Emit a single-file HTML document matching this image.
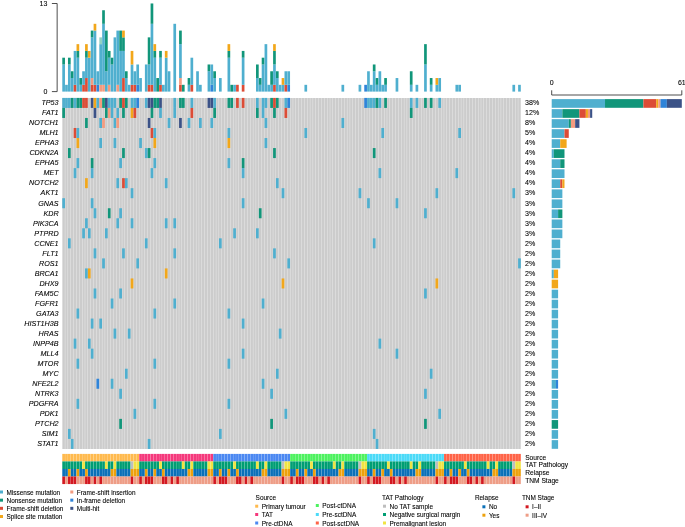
<!DOCTYPE html>
<html><head><meta charset="utf-8"><title>Oncoprint</title>
<style>
html,body{margin:0;padding:0;background:#fff;}
body{width:685px;height:527px;overflow:hidden;font-family:"Liberation Sans",sans-serif;}
svg{display:block;will-change:transform;}
text{stroke:#000;stroke-width:0.08px;}
</style></head><body>
<svg width="685" height="527" viewBox="0 0 685 527" font-family="Liberation Sans, sans-serif">
<rect width="685" height="527" fill="#fff"/>
<path d="M62.35 97.9h2.55v351.05h-2.55z M65.2 97.9h2.55v351.05h-2.55z M68.05 97.9h2.55v351.05h-2.55z M70.9 97.9h2.55v351.05h-2.55z M73.75 97.9h2.55v351.05h-2.55z M76.6 97.9h2.55v351.05h-2.55z M79.44 97.9h2.55v351.05h-2.55z M82.29 97.9h2.55v351.05h-2.55z M85.14 97.9h2.55v351.05h-2.55z M87.99 97.9h2.55v351.05h-2.55z M90.84 97.9h2.55v351.05h-2.55z M93.69 97.9h2.55v351.05h-2.55z M96.54 97.9h2.55v351.05h-2.55z M99.39 97.9h2.55v351.05h-2.55z M102.24 97.9h2.55v351.05h-2.55z M105.09 97.9h2.55v351.05h-2.55z M107.93 97.9h2.55v351.05h-2.55z M110.78 97.9h2.55v351.05h-2.55z M113.63 97.9h2.55v351.05h-2.55z M116.48 97.9h2.55v351.05h-2.55z M119.33 97.9h2.55v351.05h-2.55z M122.18 97.9h2.55v351.05h-2.55z M125.03 97.9h2.55v351.05h-2.55z M127.88 97.9h2.55v351.05h-2.55z M130.73 97.9h2.55v351.05h-2.55z M133.58 97.9h2.55v351.05h-2.55z M136.42 97.9h2.55v351.05h-2.55z M139.27 97.9h2.55v351.05h-2.55z M142.12 97.9h2.55v351.05h-2.55z M144.97 97.9h2.55v351.05h-2.55z M147.82 97.9h2.55v351.05h-2.55z M150.67 97.9h2.55v351.05h-2.55z M153.52 97.9h2.55v351.05h-2.55z M156.37 97.9h2.55v351.05h-2.55z M159.22 97.9h2.55v351.05h-2.55z M162.07 97.9h2.55v351.05h-2.55z M164.91 97.9h2.55v351.05h-2.55z M167.76 97.9h2.55v351.05h-2.55z M170.61 97.9h2.55v351.05h-2.55z M173.46 97.9h2.55v351.05h-2.55z M176.31 97.9h2.55v351.05h-2.55z M179.16 97.9h2.55v351.05h-2.55z M182.01 97.9h2.55v351.05h-2.55z M184.86 97.9h2.55v351.05h-2.55z M187.71 97.9h2.55v351.05h-2.55z M190.56 97.9h2.55v351.05h-2.55z M193.4 97.9h2.55v351.05h-2.55z M196.25 97.9h2.55v351.05h-2.55z M199.1 97.9h2.55v351.05h-2.55z M201.95 97.9h2.55v351.05h-2.55z M204.8 97.9h2.55v351.05h-2.55z M207.65 97.9h2.55v351.05h-2.55z M210.5 97.9h2.55v351.05h-2.55z M213.35 97.9h2.55v351.05h-2.55z M216.2 97.9h2.55v351.05h-2.55z M219.05 97.9h2.55v351.05h-2.55z M221.89 97.9h2.55v351.05h-2.55z M224.74 97.9h2.55v351.05h-2.55z M227.59 97.9h2.55v351.05h-2.55z M230.44 97.9h2.55v351.05h-2.55z M233.29 97.9h2.55v351.05h-2.55z M236.14 97.9h2.55v351.05h-2.55z M238.99 97.9h2.55v351.05h-2.55z M241.84 97.9h2.55v351.05h-2.55z M244.69 97.9h2.55v351.05h-2.55z M247.53 97.9h2.55v351.05h-2.55z M250.38 97.9h2.55v351.05h-2.55z M253.23 97.9h2.55v351.05h-2.55z M256.08 97.9h2.55v351.05h-2.55z M258.93 97.9h2.55v351.05h-2.55z M261.78 97.9h2.55v351.05h-2.55z M264.63 97.9h2.55v351.05h-2.55z M267.48 97.9h2.55v351.05h-2.55z M270.33 97.9h2.55v351.05h-2.55z M273.18 97.9h2.55v351.05h-2.55z M276.02 97.9h2.55v351.05h-2.55z M278.87 97.9h2.55v351.05h-2.55z M281.72 97.9h2.55v351.05h-2.55z M284.57 97.9h2.55v351.05h-2.55z M287.42 97.9h2.55v351.05h-2.55z M290.27 97.9h2.55v351.05h-2.55z M293.12 97.9h2.55v351.05h-2.55z M295.97 97.9h2.55v351.05h-2.55z M298.82 97.9h2.55v351.05h-2.55z M301.67 97.9h2.55v351.05h-2.55z M304.51 97.9h2.55v351.05h-2.55z M307.36 97.9h2.55v351.05h-2.55z M310.21 97.9h2.55v351.05h-2.55z M313.06 97.9h2.55v351.05h-2.55z M315.91 97.9h2.55v351.05h-2.55z M318.76 97.9h2.55v351.05h-2.55z M321.61 97.9h2.55v351.05h-2.55z M324.46 97.9h2.55v351.05h-2.55z M327.31 97.9h2.55v351.05h-2.55z M330.16 97.9h2.55v351.05h-2.55z M333 97.9h2.55v351.05h-2.55z M335.85 97.9h2.55v351.05h-2.55z M338.7 97.9h2.55v351.05h-2.55z M341.55 97.9h2.55v351.05h-2.55z M344.4 97.9h2.55v351.05h-2.55z M347.25 97.9h2.55v351.05h-2.55z M350.1 97.9h2.55v351.05h-2.55z M352.95 97.9h2.55v351.05h-2.55z M355.8 97.9h2.55v351.05h-2.55z M358.65 97.9h2.55v351.05h-2.55z M361.5 97.9h2.55v351.05h-2.55z M364.34 97.9h2.55v351.05h-2.55z M367.19 97.9h2.55v351.05h-2.55z M370.04 97.9h2.55v351.05h-2.55z M372.89 97.9h2.55v351.05h-2.55z M375.74 97.9h2.55v351.05h-2.55z M378.59 97.9h2.55v351.05h-2.55z M381.44 97.9h2.55v351.05h-2.55z M384.29 97.9h2.55v351.05h-2.55z M387.14 97.9h2.55v351.05h-2.55z M389.99 97.9h2.55v351.05h-2.55z M392.83 97.9h2.55v351.05h-2.55z M395.68 97.9h2.55v351.05h-2.55z M398.53 97.9h2.55v351.05h-2.55z M401.38 97.9h2.55v351.05h-2.55z M404.23 97.9h2.55v351.05h-2.55z M407.08 97.9h2.55v351.05h-2.55z M409.93 97.9h2.55v351.05h-2.55z M412.78 97.9h2.55v351.05h-2.55z M415.63 97.9h2.55v351.05h-2.55z M418.47 97.9h2.55v351.05h-2.55z M421.32 97.9h2.55v351.05h-2.55z M424.17 97.9h2.55v351.05h-2.55z M427.02 97.9h2.55v351.05h-2.55z M429.87 97.9h2.55v351.05h-2.55z M432.72 97.9h2.55v351.05h-2.55z M435.57 97.9h2.55v351.05h-2.55z M438.42 97.9h2.55v351.05h-2.55z M441.27 97.9h2.55v351.05h-2.55z M444.12 97.9h2.55v351.05h-2.55z M446.96 97.9h2.55v351.05h-2.55z M449.81 97.9h2.55v351.05h-2.55z M452.66 97.9h2.55v351.05h-2.55z M455.51 97.9h2.55v351.05h-2.55z M458.36 97.9h2.55v351.05h-2.55z M461.21 97.9h2.55v351.05h-2.55z M464.06 97.9h2.55v351.05h-2.55z M466.91 97.9h2.55v351.05h-2.55z M469.76 97.9h2.55v351.05h-2.55z M472.61 97.9h2.55v351.05h-2.55z M475.45 97.9h2.55v351.05h-2.55z M478.3 97.9h2.55v351.05h-2.55z M481.15 97.9h2.55v351.05h-2.55z M484 97.9h2.55v351.05h-2.55z M486.85 97.9h2.55v351.05h-2.55z M489.7 97.9h2.55v351.05h-2.55z M492.55 97.9h2.55v351.05h-2.55z M495.4 97.9h2.55v351.05h-2.55z M498.25 97.9h2.55v351.05h-2.55z M501.1 97.9h2.55v351.05h-2.55z M503.94 97.9h2.55v351.05h-2.55z M506.79 97.9h2.55v351.05h-2.55z M509.64 97.9h2.55v351.05h-2.55z M512.49 97.9h2.55v351.05h-2.55z M515.34 97.9h2.55v351.05h-2.55z M518.19 97.9h2.55v351.05h-2.55z" fill="#CCCCCC"/>
<rect x="62.27" y="97.9" width="2.71" height="10.03" fill="#4FAFCF"/>
<rect x="65.12" y="97.9" width="2.71" height="10.03" fill="#4FAFCF"/>
<rect x="67.97" y="97.9" width="2.71" height="10.03" fill="#4FAFCF"/>
<rect x="70.82" y="97.9" width="2.71" height="10.03" fill="#11967A"/>
<rect x="73.67" y="97.9" width="2.71" height="10.03" fill="#4FAFCF"/>
<rect x="76.52" y="97.9" width="2.71" height="10.03" fill="#11967A"/>
<rect x="79.36" y="97.9" width="2.71" height="10.03" fill="#11967A"/>
<rect x="82.21" y="97.9" width="2.71" height="10.03" fill="#DC4C36"/>
<rect x="85.06" y="97.9" width="2.71" height="10.03" fill="#DC4C36"/>
<rect x="90.76" y="97.9" width="2.71" height="10.03" fill="#3B5287"/>
<rect x="93.61" y="97.9" width="2.71" height="10.03" fill="#F2A71A"/>
<rect x="96.46" y="97.9" width="2.71" height="10.03" fill="#4FAFCF"/>
<rect x="99.31" y="97.9" width="2.71" height="10.03" fill="#F39B7F"/>
<rect x="102.16" y="97.9" width="2.71" height="10.03" fill="#11967A"/>
<rect x="105" y="97.9" width="2.71" height="10.03" fill="#3B5287"/>
<rect x="107.85" y="97.9" width="2.71" height="10.03" fill="#4FAFCF"/>
<rect x="110.7" y="97.9" width="2.71" height="10.03" fill="#4FAFCF"/>
<rect x="113.55" y="97.9" width="2.71" height="10.03" fill="#4FAFCF"/>
<rect x="119.25" y="97.9" width="2.71" height="10.03" fill="#11967A"/>
<rect x="122.1" y="97.9" width="2.71" height="10.03" fill="#DC4C36"/>
<rect x="124.95" y="97.9" width="2.71" height="10.03" fill="#11967A"/>
<rect x="130.65" y="97.9" width="2.71" height="10.03" fill="#4FAFCF"/>
<rect x="133.5" y="97.9" width="2.71" height="10.03" fill="#4FAFCF"/>
<rect x="136.34" y="97.9" width="2.71" height="10.03" fill="#2F84D9"/>
<rect x="144.89" y="97.9" width="2.71" height="10.03" fill="#4FAFCF"/>
<rect x="147.74" y="97.9" width="2.71" height="10.03" fill="#3B5287"/>
<rect x="150.59" y="97.9" width="2.71" height="10.03" fill="#3B5287"/>
<rect x="153.44" y="97.9" width="2.71" height="10.03" fill="#11967A"/>
<rect x="156.29" y="97.9" width="2.71" height="10.03" fill="#11967A"/>
<rect x="159.14" y="97.9" width="2.71" height="10.03" fill="#3B5287"/>
<rect x="173.38" y="97.9" width="2.71" height="10.03" fill="#4FAFCF"/>
<rect x="179.08" y="97.9" width="2.71" height="10.03" fill="#11967A"/>
<rect x="181.93" y="97.9" width="2.71" height="10.03" fill="#11967A"/>
<rect x="190.48" y="97.9" width="2.71" height="10.03" fill="#4FAFCF"/>
<rect x="207.57" y="97.9" width="2.71" height="10.03" fill="#3B5287"/>
<rect x="210.42" y="97.9" width="2.71" height="10.03" fill="#3B5287"/>
<rect x="213.27" y="97.9" width="2.71" height="10.03" fill="#4FAFCF"/>
<rect x="227.51" y="97.9" width="2.71" height="10.03" fill="#11967A"/>
<rect x="230.36" y="97.9" width="2.71" height="10.03" fill="#11967A"/>
<rect x="236.06" y="97.9" width="2.71" height="10.03" fill="#DC4C36"/>
<rect x="241.76" y="97.9" width="2.71" height="10.03" fill="#DC4C36"/>
<rect x="256" y="97.9" width="2.71" height="10.03" fill="#4FAFCF"/>
<rect x="261.7" y="97.9" width="2.71" height="10.03" fill="#4FAFCF"/>
<rect x="264.55" y="97.9" width="2.71" height="10.03" fill="#4FAFCF"/>
<rect x="270.25" y="97.9" width="2.71" height="10.03" fill="#11967A"/>
<rect x="273.1" y="97.9" width="2.71" height="10.03" fill="#DC4C36"/>
<rect x="275.94" y="97.9" width="2.71" height="10.03" fill="#11967A"/>
<rect x="284.49" y="97.9" width="2.71" height="10.03" fill="#4FAFCF"/>
<rect x="287.34" y="97.9" width="2.71" height="10.03" fill="#2F84D9"/>
<rect x="364.26" y="97.9" width="2.71" height="10.03" fill="#2F84D9"/>
<rect x="367.11" y="97.9" width="2.71" height="10.03" fill="#4FAFCF"/>
<rect x="369.96" y="97.9" width="2.71" height="10.03" fill="#4FAFCF"/>
<rect x="372.81" y="97.9" width="2.71" height="10.03" fill="#4FAFCF"/>
<rect x="375.66" y="97.9" width="2.71" height="10.03" fill="#11967A"/>
<rect x="378.51" y="97.9" width="2.71" height="10.03" fill="#4FAFCF"/>
<rect x="384.21" y="97.9" width="2.71" height="10.03" fill="#11967A"/>
<rect x="409.85" y="97.9" width="2.71" height="10.03" fill="#4FAFCF"/>
<rect x="415.55" y="97.9" width="2.71" height="10.03" fill="#4FAFCF"/>
<rect x="424.09" y="97.9" width="2.71" height="10.03" fill="#11967A"/>
<rect x="429.79" y="97.9" width="2.71" height="10.03" fill="#11967A"/>
<rect x="438.34" y="97.9" width="2.71" height="10.03" fill="#4FAFCF"/>
<rect x="62.27" y="107.93" width="2.71" height="10.03" fill="#11967A"/>
<rect x="93.61" y="107.93" width="2.71" height="10.03" fill="#3B5287"/>
<rect x="105" y="107.93" width="2.71" height="10.03" fill="#11967A"/>
<rect x="107.85" y="107.93" width="2.71" height="10.03" fill="#F39B7F"/>
<rect x="110.7" y="107.93" width="2.71" height="10.03" fill="#4FAFCF"/>
<rect x="116.4" y="107.93" width="2.71" height="10.03" fill="#4FAFCF"/>
<rect x="122.1" y="107.93" width="2.71" height="10.03" fill="#11967A"/>
<rect x="130.65" y="107.93" width="2.71" height="10.03" fill="#F2A71A"/>
<rect x="133.5" y="107.93" width="2.71" height="10.03" fill="#DC4C36"/>
<rect x="150.59" y="107.93" width="2.71" height="10.03" fill="#11967A"/>
<rect x="159.14" y="107.93" width="2.71" height="10.03" fill="#4FAFCF"/>
<rect x="173.38" y="107.93" width="2.71" height="10.03" fill="#4FAFCF"/>
<rect x="190.48" y="107.93" width="2.71" height="10.03" fill="#DC4C36"/>
<rect x="213.27" y="107.93" width="2.71" height="10.03" fill="#11967A"/>
<rect x="256" y="107.93" width="2.71" height="10.03" fill="#11967A"/>
<rect x="261.7" y="107.93" width="2.71" height="10.03" fill="#4FAFCF"/>
<rect x="273.1" y="107.93" width="2.71" height="10.03" fill="#11967A"/>
<rect x="284.49" y="107.93" width="2.71" height="10.03" fill="#DC4C36"/>
<rect x="409.85" y="107.93" width="2.71" height="10.03" fill="#11967A"/>
<rect x="85.06" y="117.96" width="2.71" height="10.03" fill="#11967A"/>
<rect x="99.31" y="117.96" width="2.71" height="10.03" fill="#4FAFCF"/>
<rect x="102.16" y="117.96" width="2.71" height="10.03" fill="#F39B7F"/>
<rect x="113.55" y="117.96" width="2.71" height="10.03" fill="#4FAFCF"/>
<rect x="116.4" y="117.96" width="2.71" height="10.03" fill="#F39B7F"/>
<rect x="147.74" y="117.96" width="2.71" height="10.03" fill="#3B5287"/>
<rect x="167.68" y="117.96" width="2.71" height="10.03" fill="#4FAFCF"/>
<rect x="179.08" y="117.96" width="2.71" height="10.03" fill="#3B5287"/>
<rect x="187.63" y="117.96" width="2.71" height="10.03" fill="#4FAFCF"/>
<rect x="199.02" y="117.96" width="2.71" height="10.03" fill="#4FAFCF"/>
<rect x="210.42" y="117.96" width="2.71" height="10.03" fill="#4FAFCF"/>
<rect x="264.55" y="117.96" width="2.71" height="10.03" fill="#4FAFCF"/>
<rect x="341.47" y="117.96" width="2.71" height="10.03" fill="#4FAFCF"/>
<rect x="73.67" y="127.99" width="2.71" height="10.03" fill="#DC4C36"/>
<rect x="76.52" y="127.99" width="2.71" height="10.03" fill="#4FAFCF"/>
<rect x="150.59" y="127.99" width="2.71" height="10.03" fill="#DC4C36"/>
<rect x="153.44" y="127.99" width="2.71" height="10.03" fill="#4FAFCF"/>
<rect x="227.51" y="127.99" width="2.71" height="10.03" fill="#4FAFCF"/>
<rect x="304.44" y="127.99" width="2.71" height="10.03" fill="#4FAFCF"/>
<rect x="381.36" y="127.99" width="2.71" height="10.03" fill="#4FAFCF"/>
<rect x="458.28" y="127.99" width="2.71" height="10.03" fill="#4FAFCF"/>
<rect x="76.52" y="138.02" width="2.71" height="10.03" fill="#F2A71A"/>
<rect x="99.31" y="138.02" width="2.71" height="10.03" fill="#4FAFCF"/>
<rect x="113.55" y="138.02" width="2.71" height="10.03" fill="#4FAFCF"/>
<rect x="139.19" y="138.02" width="2.71" height="10.03" fill="#4FAFCF"/>
<rect x="153.44" y="138.02" width="2.71" height="10.03" fill="#F2A71A"/>
<rect x="227.51" y="138.02" width="2.71" height="10.03" fill="#F2A71A"/>
<rect x="264.55" y="138.02" width="2.71" height="10.03" fill="#4FAFCF"/>
<rect x="67.97" y="148.05" width="2.71" height="10.03" fill="#11967A"/>
<rect x="122.1" y="148.05" width="2.71" height="10.03" fill="#11967A"/>
<rect x="144.89" y="148.05" width="2.71" height="10.03" fill="#4FAFCF"/>
<rect x="147.74" y="148.05" width="2.71" height="10.03" fill="#11967A"/>
<rect x="273.1" y="148.05" width="2.71" height="10.03" fill="#11967A"/>
<rect x="372.81" y="148.05" width="2.71" height="10.03" fill="#11967A"/>
<rect x="76.52" y="158.08" width="2.71" height="10.03" fill="#4FAFCF"/>
<rect x="90.76" y="158.08" width="2.71" height="10.03" fill="#11967A"/>
<rect x="119.25" y="158.08" width="2.71" height="10.03" fill="#4FAFCF"/>
<rect x="153.44" y="158.08" width="2.71" height="10.03" fill="#4FAFCF"/>
<rect x="227.51" y="158.08" width="2.71" height="10.03" fill="#4FAFCF"/>
<rect x="241.76" y="158.08" width="2.71" height="10.03" fill="#11967A"/>
<rect x="73.67" y="168.11" width="2.71" height="10.03" fill="#4FAFCF"/>
<rect x="90.76" y="168.11" width="2.71" height="10.03" fill="#4FAFCF"/>
<rect x="150.59" y="168.11" width="2.71" height="10.03" fill="#4FAFCF"/>
<rect x="241.76" y="168.11" width="2.71" height="10.03" fill="#4FAFCF"/>
<rect x="378.51" y="168.11" width="2.71" height="10.03" fill="#4FAFCF"/>
<rect x="455.43" y="168.11" width="2.71" height="10.03" fill="#4FAFCF"/>
<rect x="85.06" y="178.14" width="2.71" height="10.03" fill="#F2A71A"/>
<rect x="116.4" y="178.14" width="2.71" height="10.03" fill="#4FAFCF"/>
<rect x="122.1" y="178.14" width="2.71" height="10.03" fill="#DC4C36"/>
<rect x="124.95" y="178.14" width="2.71" height="10.03" fill="#4FAFCF"/>
<rect x="164.83" y="178.14" width="2.71" height="10.03" fill="#4FAFCF"/>
<rect x="275.94" y="178.14" width="2.71" height="10.03" fill="#4FAFCF"/>
<rect x="130.65" y="188.17" width="2.71" height="10.03" fill="#4FAFCF"/>
<rect x="281.64" y="188.17" width="2.71" height="10.03" fill="#4FAFCF"/>
<rect x="358.57" y="188.17" width="2.71" height="10.03" fill="#4FAFCF"/>
<rect x="435.49" y="188.17" width="2.71" height="10.03" fill="#4FAFCF"/>
<rect x="512.41" y="188.17" width="2.71" height="10.03" fill="#4FAFCF"/>
<rect x="62.27" y="198.2" width="2.71" height="10.03" fill="#4FAFCF"/>
<rect x="90.76" y="198.2" width="2.71" height="10.03" fill="#4FAFCF"/>
<rect x="241.76" y="198.2" width="2.71" height="10.03" fill="#4FAFCF"/>
<rect x="367.11" y="198.2" width="2.71" height="10.03" fill="#4FAFCF"/>
<rect x="395.6" y="198.2" width="2.71" height="10.03" fill="#4FAFCF"/>
<rect x="93.61" y="208.23" width="2.71" height="10.03" fill="#4FAFCF"/>
<rect x="107.85" y="208.23" width="2.71" height="10.03" fill="#11967A"/>
<rect x="119.25" y="208.23" width="2.71" height="10.03" fill="#4FAFCF"/>
<rect x="258.85" y="208.23" width="2.71" height="10.03" fill="#11967A"/>
<rect x="424.09" y="208.23" width="2.71" height="10.03" fill="#4FAFCF"/>
<rect x="85.06" y="218.26" width="2.71" height="10.03" fill="#4FAFCF"/>
<rect x="116.4" y="218.26" width="2.71" height="10.03" fill="#4FAFCF"/>
<rect x="130.65" y="218.26" width="2.71" height="10.03" fill="#4FAFCF"/>
<rect x="164.83" y="218.26" width="2.71" height="10.03" fill="#4FAFCF"/>
<rect x="173.38" y="218.26" width="2.71" height="10.03" fill="#4FAFCF"/>
<rect x="82.21" y="228.29" width="2.71" height="10.03" fill="#4FAFCF"/>
<rect x="87.91" y="228.29" width="2.71" height="10.03" fill="#4FAFCF"/>
<rect x="105" y="228.29" width="2.71" height="10.03" fill="#4FAFCF"/>
<rect x="233.21" y="228.29" width="2.71" height="10.03" fill="#4FAFCF"/>
<rect x="256" y="228.29" width="2.71" height="10.03" fill="#4FAFCF"/>
<rect x="67.97" y="238.32" width="2.71" height="10.03" fill="#4FAFCF"/>
<rect x="144.89" y="238.32" width="2.71" height="10.03" fill="#4FAFCF"/>
<rect x="218.97" y="238.32" width="2.71" height="10.03" fill="#4FAFCF"/>
<rect x="372.81" y="238.32" width="2.71" height="10.03" fill="#4FAFCF"/>
<rect x="93.61" y="248.35" width="2.71" height="10.03" fill="#4FAFCF"/>
<rect x="122.1" y="248.35" width="2.71" height="10.03" fill="#4FAFCF"/>
<rect x="173.38" y="248.35" width="2.71" height="10.03" fill="#4FAFCF"/>
<rect x="273.1" y="248.35" width="2.71" height="10.03" fill="#4FAFCF"/>
<rect x="102.16" y="258.38" width="2.71" height="10.03" fill="#4FAFCF"/>
<rect x="136.34" y="258.38" width="2.71" height="10.03" fill="#4FAFCF"/>
<rect x="287.34" y="258.38" width="2.71" height="10.03" fill="#4FAFCF"/>
<rect x="518.11" y="258.38" width="2.71" height="10.03" fill="#4FAFCF"/>
<rect x="85.06" y="268.41" width="2.71" height="10.03" fill="#4FAFCF"/>
<rect x="87.91" y="268.41" width="2.71" height="10.03" fill="#F2A71A"/>
<rect x="164.83" y="268.41" width="2.71" height="10.03" fill="#F2A71A"/>
<rect x="130.65" y="278.44" width="2.71" height="10.03" fill="#F2A71A"/>
<rect x="281.64" y="278.44" width="2.71" height="10.03" fill="#F2A71A"/>
<rect x="435.49" y="278.44" width="2.71" height="10.03" fill="#F2A71A"/>
<rect x="93.61" y="288.47" width="2.71" height="10.03" fill="#4FAFCF"/>
<rect x="119.25" y="288.47" width="2.71" height="10.03" fill="#4FAFCF"/>
<rect x="424.09" y="288.47" width="2.71" height="10.03" fill="#4FAFCF"/>
<rect x="110.7" y="298.5" width="2.71" height="10.03" fill="#4FAFCF"/>
<rect x="173.38" y="298.5" width="2.71" height="10.03" fill="#4FAFCF"/>
<rect x="261.7" y="298.5" width="2.71" height="10.03" fill="#4FAFCF"/>
<rect x="76.52" y="308.53" width="2.71" height="10.03" fill="#4FAFCF"/>
<rect x="153.44" y="308.53" width="2.71" height="10.03" fill="#4FAFCF"/>
<rect x="227.51" y="308.53" width="2.71" height="10.03" fill="#4FAFCF"/>
<rect x="90.76" y="318.56" width="2.71" height="10.03" fill="#4FAFCF"/>
<rect x="99.31" y="318.56" width="2.71" height="10.03" fill="#4FAFCF"/>
<rect x="241.76" y="318.56" width="2.71" height="10.03" fill="#4FAFCF"/>
<rect x="113.55" y="328.59" width="2.71" height="10.03" fill="#4FAFCF"/>
<rect x="127.8" y="328.59" width="2.71" height="10.03" fill="#4FAFCF"/>
<rect x="278.79" y="328.59" width="2.71" height="10.03" fill="#4FAFCF"/>
<rect x="73.67" y="338.62" width="2.71" height="10.03" fill="#4FAFCF"/>
<rect x="87.91" y="338.62" width="2.71" height="10.03" fill="#4FAFCF"/>
<rect x="378.51" y="338.62" width="2.71" height="10.03" fill="#4FAFCF"/>
<rect x="90.76" y="348.65" width="2.71" height="10.03" fill="#4FAFCF"/>
<rect x="241.76" y="348.65" width="2.71" height="10.03" fill="#4FAFCF"/>
<rect x="395.6" y="348.65" width="2.71" height="10.03" fill="#4FAFCF"/>
<rect x="76.52" y="358.68" width="2.71" height="10.03" fill="#4FAFCF"/>
<rect x="153.44" y="358.68" width="2.71" height="10.03" fill="#4FAFCF"/>
<rect x="227.51" y="358.68" width="2.71" height="10.03" fill="#4FAFCF"/>
<rect x="124.95" y="368.71" width="2.71" height="10.03" fill="#4FAFCF"/>
<rect x="275.94" y="368.71" width="2.71" height="10.03" fill="#4FAFCF"/>
<rect x="429.79" y="368.71" width="2.71" height="10.03" fill="#4FAFCF"/>
<rect x="96.46" y="378.74" width="2.71" height="10.03" fill="#2F84D9"/>
<rect x="110.7" y="378.74" width="2.71" height="10.03" fill="#4FAFCF"/>
<rect x="261.7" y="378.74" width="2.71" height="10.03" fill="#4FAFCF"/>
<rect x="119.25" y="388.77" width="2.71" height="10.03" fill="#4FAFCF"/>
<rect x="270.25" y="388.77" width="2.71" height="10.03" fill="#4FAFCF"/>
<rect x="424.09" y="388.77" width="2.71" height="10.03" fill="#4FAFCF"/>
<rect x="76.52" y="398.8" width="2.71" height="10.03" fill="#4FAFCF"/>
<rect x="153.44" y="398.8" width="2.71" height="10.03" fill="#4FAFCF"/>
<rect x="227.51" y="398.8" width="2.71" height="10.03" fill="#4FAFCF"/>
<rect x="133.5" y="408.83" width="2.71" height="10.03" fill="#4FAFCF"/>
<rect x="284.49" y="408.83" width="2.71" height="10.03" fill="#4FAFCF"/>
<rect x="438.34" y="408.83" width="2.71" height="10.03" fill="#4FAFCF"/>
<rect x="119.25" y="418.86" width="2.71" height="10.03" fill="#11967A"/>
<rect x="270.25" y="418.86" width="2.71" height="10.03" fill="#11967A"/>
<rect x="424.09" y="418.86" width="2.71" height="10.03" fill="#11967A"/>
<rect x="67.97" y="428.89" width="2.71" height="10.03" fill="#4FAFCF"/>
<rect x="218.97" y="428.89" width="2.71" height="10.03" fill="#4FAFCF"/>
<rect x="372.81" y="428.89" width="2.71" height="10.03" fill="#4FAFCF"/>
<rect x="70.82" y="438.92" width="2.71" height="10.03" fill="#4FAFCF"/>
<rect x="147.74" y="438.92" width="2.71" height="10.03" fill="#4FAFCF"/>
<rect x="375.66" y="438.92" width="2.71" height="10.03" fill="#4FAFCF"/>
<rect x="62.28" y="64.48" width="2.69" height="27.12" fill="#4FAFCF"/>
<rect x="62.28" y="57.7" width="2.69" height="6.78" fill="#11967A"/>
<rect x="65.13" y="84.82" width="2.69" height="6.78" fill="#4FAFCF"/>
<rect x="67.98" y="64.48" width="2.69" height="27.12" fill="#4FAFCF"/>
<rect x="67.98" y="57.7" width="2.69" height="6.78" fill="#11967A"/>
<rect x="70.83" y="78.04" width="2.69" height="13.56" fill="#4FAFCF"/>
<rect x="70.83" y="71.26" width="2.69" height="6.78" fill="#11967A"/>
<rect x="73.68" y="84.82" width="2.69" height="6.78" fill="#DC4C36"/>
<rect x="73.68" y="50.92" width="2.69" height="33.9" fill="#4FAFCF"/>
<rect x="76.53" y="57.7" width="2.69" height="33.9" fill="#4FAFCF"/>
<rect x="76.53" y="50.92" width="2.69" height="6.78" fill="#11967A"/>
<rect x="76.53" y="44.14" width="2.69" height="6.78" fill="#F2A71A"/>
<rect x="79.37" y="84.82" width="2.69" height="6.78" fill="#4FAFCF"/>
<rect x="79.37" y="78.04" width="2.69" height="6.78" fill="#11967A"/>
<rect x="82.22" y="84.82" width="2.69" height="6.78" fill="#DC4C36"/>
<rect x="82.22" y="71.26" width="2.69" height="13.56" fill="#4FAFCF"/>
<rect x="85.07" y="78.04" width="2.69" height="13.56" fill="#DC4C36"/>
<rect x="85.07" y="57.7" width="2.69" height="20.34" fill="#4FAFCF"/>
<rect x="85.07" y="50.92" width="2.69" height="6.78" fill="#11967A"/>
<rect x="85.07" y="44.14" width="2.69" height="6.78" fill="#F2A71A"/>
<rect x="87.92" y="57.7" width="2.69" height="33.9" fill="#4FAFCF"/>
<rect x="87.92" y="50.92" width="2.69" height="6.78" fill="#F2A71A"/>
<rect x="90.77" y="84.82" width="2.69" height="6.78" fill="#DC4C36"/>
<rect x="90.77" y="78.04" width="2.69" height="6.78" fill="#F39B7F"/>
<rect x="90.77" y="37.36" width="2.69" height="40.68" fill="#4FAFCF"/>
<rect x="90.77" y="30.58" width="2.69" height="6.78" fill="#11967A"/>
<rect x="93.62" y="84.82" width="2.69" height="6.78" fill="#DC4C36"/>
<rect x="93.62" y="30.58" width="2.69" height="54.24" fill="#4FAFCF"/>
<rect x="93.62" y="23.8" width="2.69" height="6.78" fill="#F2A71A"/>
<rect x="96.47" y="84.82" width="2.69" height="6.78" fill="#2F84D9"/>
<rect x="96.47" y="71.26" width="2.69" height="13.56" fill="#4FAFCF"/>
<rect x="99.32" y="84.82" width="2.69" height="6.78" fill="#F39B7F"/>
<rect x="99.32" y="44.14" width="2.69" height="40.68" fill="#4FAFCF"/>
<rect x="99.32" y="37.36" width="2.69" height="6.78" fill="#91D1C2"/>
<rect x="102.17" y="84.82" width="2.69" height="6.78" fill="#F39B7F"/>
<rect x="102.17" y="23.8" width="2.69" height="61.02" fill="#4FAFCF"/>
<rect x="102.17" y="10.24" width="2.69" height="13.56" fill="#11967A"/>
<rect x="105.02" y="71.26" width="2.69" height="20.34" fill="#4FAFCF"/>
<rect x="105.02" y="30.58" width="2.69" height="40.68" fill="#11967A"/>
<rect x="107.86" y="84.82" width="2.69" height="6.78" fill="#F39B7F"/>
<rect x="107.86" y="57.7" width="2.69" height="27.12" fill="#4FAFCF"/>
<rect x="107.86" y="50.92" width="2.69" height="6.78" fill="#11967A"/>
<rect x="110.71" y="64.48" width="2.69" height="27.12" fill="#4FAFCF"/>
<rect x="110.71" y="57.7" width="2.69" height="6.78" fill="#11967A"/>
<rect x="113.56" y="37.36" width="2.69" height="54.24" fill="#4FAFCF"/>
<rect x="116.41" y="84.82" width="2.69" height="6.78" fill="#F39B7F"/>
<rect x="116.41" y="30.58" width="2.69" height="54.24" fill="#4FAFCF"/>
<rect x="119.26" y="50.92" width="2.69" height="40.68" fill="#4FAFCF"/>
<rect x="119.26" y="30.58" width="2.69" height="20.34" fill="#11967A"/>
<rect x="122.11" y="78.04" width="2.69" height="13.56" fill="#DC4C36"/>
<rect x="122.11" y="50.92" width="2.69" height="27.12" fill="#4FAFCF"/>
<rect x="122.11" y="37.36" width="2.69" height="13.56" fill="#11967A"/>
<rect x="122.11" y="30.58" width="2.69" height="6.78" fill="#F2A71A"/>
<rect x="124.96" y="78.04" width="2.69" height="13.56" fill="#4FAFCF"/>
<rect x="124.96" y="71.26" width="2.69" height="6.78" fill="#11967A"/>
<rect x="127.81" y="84.82" width="2.69" height="6.78" fill="#4FAFCF"/>
<rect x="130.66" y="84.82" width="2.69" height="6.78" fill="#DC4C36"/>
<rect x="130.66" y="64.48" width="2.69" height="20.34" fill="#4FAFCF"/>
<rect x="130.66" y="50.92" width="2.69" height="13.56" fill="#F2A71A"/>
<rect x="133.51" y="84.82" width="2.69" height="6.78" fill="#DC4C36"/>
<rect x="133.51" y="71.26" width="2.69" height="13.56" fill="#4FAFCF"/>
<rect x="136.35" y="84.82" width="2.69" height="6.78" fill="#2F84D9"/>
<rect x="136.35" y="64.48" width="2.69" height="20.34" fill="#4FAFCF"/>
<rect x="139.2" y="78.04" width="2.69" height="13.56" fill="#4FAFCF"/>
<rect x="144.9" y="64.48" width="2.69" height="27.12" fill="#4FAFCF"/>
<rect x="147.75" y="84.82" width="2.69" height="6.78" fill="#DC4C36"/>
<rect x="147.75" y="64.48" width="2.69" height="20.34" fill="#4FAFCF"/>
<rect x="147.75" y="37.36" width="2.69" height="27.12" fill="#11967A"/>
<rect x="150.6" y="84.82" width="2.69" height="6.78" fill="#DC4C36"/>
<rect x="150.6" y="23.8" width="2.69" height="61.02" fill="#4FAFCF"/>
<rect x="150.6" y="3.46" width="2.69" height="20.34" fill="#11967A"/>
<rect x="153.45" y="57.7" width="2.69" height="33.9" fill="#4FAFCF"/>
<rect x="153.45" y="50.92" width="2.69" height="6.78" fill="#11967A"/>
<rect x="153.45" y="44.14" width="2.69" height="6.78" fill="#F2A71A"/>
<rect x="156.3" y="78.04" width="2.69" height="13.56" fill="#11967A"/>
<rect x="159.15" y="84.82" width="2.69" height="6.78" fill="#DC4C36"/>
<rect x="159.15" y="57.7" width="2.69" height="27.12" fill="#4FAFCF"/>
<rect x="159.15" y="50.92" width="2.69" height="6.78" fill="#11967A"/>
<rect x="162" y="84.82" width="2.69" height="6.78" fill="#4FAFCF"/>
<rect x="164.84" y="57.7" width="2.69" height="33.9" fill="#4FAFCF"/>
<rect x="164.84" y="50.92" width="2.69" height="6.78" fill="#F2A71A"/>
<rect x="167.69" y="71.26" width="2.69" height="20.34" fill="#4FAFCF"/>
<rect x="173.39" y="23.8" width="2.69" height="67.8" fill="#4FAFCF"/>
<rect x="179.09" y="84.82" width="2.69" height="6.78" fill="#DC4C36"/>
<rect x="179.09" y="78.04" width="2.69" height="6.78" fill="#F39B7F"/>
<rect x="179.09" y="44.14" width="2.69" height="33.9" fill="#4FAFCF"/>
<rect x="179.09" y="30.58" width="2.69" height="13.56" fill="#11967A"/>
<rect x="181.94" y="84.82" width="2.69" height="6.78" fill="#11967A"/>
<rect x="187.64" y="84.82" width="2.69" height="6.78" fill="#4FAFCF"/>
<rect x="187.64" y="78.04" width="2.69" height="6.78" fill="#11967A"/>
<rect x="190.49" y="84.82" width="2.69" height="6.78" fill="#DC4C36"/>
<rect x="190.49" y="57.7" width="2.69" height="27.12" fill="#4FAFCF"/>
<rect x="196.18" y="71.26" width="2.69" height="20.34" fill="#4FAFCF"/>
<rect x="199.03" y="84.82" width="2.69" height="6.78" fill="#4FAFCF"/>
<rect x="207.58" y="71.26" width="2.69" height="20.34" fill="#4FAFCF"/>
<rect x="207.58" y="64.48" width="2.69" height="6.78" fill="#11967A"/>
<rect x="210.43" y="84.82" width="2.69" height="6.78" fill="#2F84D9"/>
<rect x="210.43" y="64.48" width="2.69" height="20.34" fill="#4FAFCF"/>
<rect x="213.28" y="78.04" width="2.69" height="13.56" fill="#4FAFCF"/>
<rect x="213.28" y="71.26" width="2.69" height="6.78" fill="#11967A"/>
<rect x="218.98" y="78.04" width="2.69" height="13.56" fill="#4FAFCF"/>
<rect x="227.52" y="57.7" width="2.69" height="33.9" fill="#4FAFCF"/>
<rect x="227.52" y="50.92" width="2.69" height="6.78" fill="#11967A"/>
<rect x="227.52" y="44.14" width="2.69" height="6.78" fill="#F2A71A"/>
<rect x="230.37" y="84.82" width="2.69" height="6.78" fill="#11967A"/>
<rect x="233.22" y="84.82" width="2.69" height="6.78" fill="#4FAFCF"/>
<rect x="236.07" y="84.82" width="2.69" height="6.78" fill="#DC4C36"/>
<rect x="241.77" y="84.82" width="2.69" height="6.78" fill="#DC4C36"/>
<rect x="241.77" y="57.7" width="2.69" height="27.12" fill="#4FAFCF"/>
<rect x="241.77" y="50.92" width="2.69" height="6.78" fill="#11967A"/>
<rect x="256.01" y="78.04" width="2.69" height="13.56" fill="#4FAFCF"/>
<rect x="256.01" y="64.48" width="2.69" height="13.56" fill="#11967A"/>
<rect x="258.86" y="84.82" width="2.69" height="6.78" fill="#4FAFCF"/>
<rect x="258.86" y="78.04" width="2.69" height="6.78" fill="#11967A"/>
<rect x="261.71" y="64.48" width="2.69" height="27.12" fill="#4FAFCF"/>
<rect x="261.71" y="57.7" width="2.69" height="6.78" fill="#11967A"/>
<rect x="264.56" y="44.14" width="2.69" height="47.46" fill="#4FAFCF"/>
<rect x="267.41" y="84.82" width="2.69" height="6.78" fill="#4FAFCF"/>
<rect x="270.26" y="84.82" width="2.69" height="6.78" fill="#4FAFCF"/>
<rect x="270.26" y="71.26" width="2.69" height="13.56" fill="#11967A"/>
<rect x="273.11" y="84.82" width="2.69" height="6.78" fill="#DC4C36"/>
<rect x="273.11" y="64.48" width="2.69" height="20.34" fill="#4FAFCF"/>
<rect x="273.11" y="50.92" width="2.69" height="13.56" fill="#11967A"/>
<rect x="273.11" y="44.14" width="2.69" height="6.78" fill="#F2A71A"/>
<rect x="275.95" y="78.04" width="2.69" height="13.56" fill="#4FAFCF"/>
<rect x="275.95" y="71.26" width="2.69" height="6.78" fill="#11967A"/>
<rect x="278.8" y="84.82" width="2.69" height="6.78" fill="#4FAFCF"/>
<rect x="281.65" y="84.82" width="2.69" height="6.78" fill="#4FAFCF"/>
<rect x="281.65" y="78.04" width="2.69" height="6.78" fill="#F2A71A"/>
<rect x="284.5" y="84.82" width="2.69" height="6.78" fill="#DC4C36"/>
<rect x="284.5" y="71.26" width="2.69" height="13.56" fill="#4FAFCF"/>
<rect x="287.35" y="84.82" width="2.69" height="6.78" fill="#2F84D9"/>
<rect x="287.35" y="71.26" width="2.69" height="13.56" fill="#4FAFCF"/>
<rect x="304.44" y="84.82" width="2.69" height="6.78" fill="#4FAFCF"/>
<rect x="341.48" y="84.82" width="2.69" height="6.78" fill="#4FAFCF"/>
<rect x="358.58" y="84.82" width="2.69" height="6.78" fill="#4FAFCF"/>
<rect x="364.27" y="84.82" width="2.69" height="6.78" fill="#2F84D9"/>
<rect x="367.12" y="71.26" width="2.69" height="20.34" fill="#4FAFCF"/>
<rect x="369.97" y="84.82" width="2.69" height="6.78" fill="#4FAFCF"/>
<rect x="372.82" y="71.26" width="2.69" height="20.34" fill="#4FAFCF"/>
<rect x="372.82" y="64.48" width="2.69" height="6.78" fill="#11967A"/>
<rect x="375.67" y="84.82" width="2.69" height="6.78" fill="#4FAFCF"/>
<rect x="375.67" y="78.04" width="2.69" height="6.78" fill="#11967A"/>
<rect x="378.52" y="71.26" width="2.69" height="20.34" fill="#4FAFCF"/>
<rect x="381.37" y="84.82" width="2.69" height="6.78" fill="#4FAFCF"/>
<rect x="384.22" y="84.82" width="2.69" height="6.78" fill="#4FAFCF"/>
<rect x="384.22" y="78.04" width="2.69" height="6.78" fill="#11967A"/>
<rect x="395.61" y="78.04" width="2.69" height="13.56" fill="#4FAFCF"/>
<rect x="409.86" y="84.82" width="2.69" height="6.78" fill="#4FAFCF"/>
<rect x="409.86" y="71.26" width="2.69" height="13.56" fill="#11967A"/>
<rect x="415.56" y="84.82" width="2.69" height="6.78" fill="#4FAFCF"/>
<rect x="424.1" y="64.48" width="2.69" height="27.12" fill="#4FAFCF"/>
<rect x="424.1" y="44.14" width="2.69" height="20.34" fill="#11967A"/>
<rect x="429.8" y="84.82" width="2.69" height="6.78" fill="#4FAFCF"/>
<rect x="429.8" y="78.04" width="2.69" height="6.78" fill="#11967A"/>
<rect x="435.5" y="84.82" width="2.69" height="6.78" fill="#4FAFCF"/>
<rect x="435.5" y="78.04" width="2.69" height="6.78" fill="#F2A71A"/>
<rect x="438.35" y="78.04" width="2.69" height="13.56" fill="#4FAFCF"/>
<rect x="455.44" y="84.82" width="2.69" height="6.78" fill="#4FAFCF"/>
<rect x="458.29" y="84.82" width="2.69" height="6.78" fill="#4FAFCF"/>
<rect x="512.42" y="84.82" width="2.69" height="6.78" fill="#4FAFCF"/>
<rect x="518.12" y="84.82" width="2.69" height="6.78" fill="#4FAFCF"/>
<path d="M51.9 3.5H57.15V91.6H51.9" stroke="#3a3a3a" stroke-width="0.9" fill="none"/>
<text x="47.3" y="5.9" font-size="7" text-anchor="end" fill="#000">13</text>
<text x="47.3" y="94.1" font-size="7" text-anchor="end" fill="#000">0</text>
<text x="58.6" y="105.22" font-size="7.2" font-style="italic" text-anchor="end" fill="#000">TP53</text>
<text x="525.0" y="105.22" font-size="7.1" fill="#000">38%</text>
<text x="58.6" y="115.25" font-size="7.2" font-style="italic" text-anchor="end" fill="#000">FAT1</text>
<text x="525.0" y="115.25" font-size="7.1" fill="#000">12%</text>
<text x="58.6" y="125.28" font-size="7.2" font-style="italic" text-anchor="end" fill="#000">NOTCH1</text>
<text x="525.0" y="125.28" font-size="7.1" fill="#000">8%</text>
<text x="58.6" y="135.31" font-size="7.2" font-style="italic" text-anchor="end" fill="#000">MLH1</text>
<text x="525.0" y="135.31" font-size="7.1" fill="#000">5%</text>
<text x="58.6" y="145.34" font-size="7.2" font-style="italic" text-anchor="end" fill="#000">EPHA3</text>
<text x="525.0" y="145.34" font-size="7.1" fill="#000">4%</text>
<text x="58.6" y="155.37" font-size="7.2" font-style="italic" text-anchor="end" fill="#000">CDKN2A</text>
<text x="525.0" y="155.37" font-size="7.1" fill="#000">4%</text>
<text x="58.6" y="165.39" font-size="7.2" font-style="italic" text-anchor="end" fill="#000">EPHA5</text>
<text x="525.0" y="165.39" font-size="7.1" fill="#000">4%</text>
<text x="58.6" y="175.43" font-size="7.2" font-style="italic" text-anchor="end" fill="#000">MET</text>
<text x="525.0" y="175.43" font-size="7.1" fill="#000">4%</text>
<text x="58.6" y="185.45" font-size="7.2" font-style="italic" text-anchor="end" fill="#000">NOTCH2</text>
<text x="525.0" y="185.45" font-size="7.1" fill="#000">4%</text>
<text x="58.6" y="195.49" font-size="7.2" font-style="italic" text-anchor="end" fill="#000">AKT1</text>
<text x="525.0" y="195.49" font-size="7.1" fill="#000">3%</text>
<text x="58.6" y="205.51" font-size="7.2" font-style="italic" text-anchor="end" fill="#000">GNAS</text>
<text x="525.0" y="205.51" font-size="7.1" fill="#000">3%</text>
<text x="58.6" y="215.55" font-size="7.2" font-style="italic" text-anchor="end" fill="#000">KDR</text>
<text x="525.0" y="215.55" font-size="7.1" fill="#000">3%</text>
<text x="58.6" y="225.57" font-size="7.2" font-style="italic" text-anchor="end" fill="#000">PIK3CA</text>
<text x="525.0" y="225.57" font-size="7.1" fill="#000">3%</text>
<text x="58.6" y="235.6" font-size="7.2" font-style="italic" text-anchor="end" fill="#000">PTPRD</text>
<text x="525.0" y="235.6" font-size="7.1" fill="#000">3%</text>
<text x="58.6" y="245.63" font-size="7.2" font-style="italic" text-anchor="end" fill="#000">CCNE1</text>
<text x="525.0" y="245.63" font-size="7.1" fill="#000">2%</text>
<text x="58.6" y="255.66" font-size="7.2" font-style="italic" text-anchor="end" fill="#000">FLT1</text>
<text x="525.0" y="255.66" font-size="7.1" fill="#000">2%</text>
<text x="58.6" y="265.69" font-size="7.2" font-style="italic" text-anchor="end" fill="#000">ROS1</text>
<text x="525.0" y="265.69" font-size="7.1" fill="#000">2%</text>
<text x="58.6" y="275.72" font-size="7.2" font-style="italic" text-anchor="end" fill="#000">BRCA1</text>
<text x="525.0" y="275.72" font-size="7.1" fill="#000">2%</text>
<text x="58.6" y="285.75" font-size="7.2" font-style="italic" text-anchor="end" fill="#000">DHX9</text>
<text x="525.0" y="285.75" font-size="7.1" fill="#000">2%</text>
<text x="58.6" y="295.79" font-size="7.2" font-style="italic" text-anchor="end" fill="#000">FAM5C</text>
<text x="525.0" y="295.79" font-size="7.1" fill="#000">2%</text>
<text x="58.6" y="305.81" font-size="7.2" font-style="italic" text-anchor="end" fill="#000">FGFR1</text>
<text x="525.0" y="305.81" font-size="7.1" fill="#000">2%</text>
<text x="58.6" y="315.84" font-size="7.2" font-style="italic" text-anchor="end" fill="#000">GATA3</text>
<text x="525.0" y="315.84" font-size="7.1" fill="#000">2%</text>
<text x="58.6" y="325.88" font-size="7.2" font-style="italic" text-anchor="end" fill="#000">HIST1H3B</text>
<text x="525.0" y="325.88" font-size="7.1" fill="#000">2%</text>
<text x="58.6" y="335.91" font-size="7.2" font-style="italic" text-anchor="end" fill="#000">HRAS</text>
<text x="525.0" y="335.91" font-size="7.1" fill="#000">2%</text>
<text x="58.6" y="345.94" font-size="7.2" font-style="italic" text-anchor="end" fill="#000">INPP4B</text>
<text x="525.0" y="345.94" font-size="7.1" fill="#000">2%</text>
<text x="58.6" y="355.96" font-size="7.2" font-style="italic" text-anchor="end" fill="#000">MLL4</text>
<text x="525.0" y="355.96" font-size="7.1" fill="#000">2%</text>
<text x="58.6" y="365.99" font-size="7.2" font-style="italic" text-anchor="end" fill="#000">MTOR</text>
<text x="525.0" y="365.99" font-size="7.1" fill="#000">2%</text>
<text x="58.6" y="376.03" font-size="7.2" font-style="italic" text-anchor="end" fill="#000">MYC</text>
<text x="525.0" y="376.03" font-size="7.1" fill="#000">2%</text>
<text x="58.6" y="386.06" font-size="7.2" font-style="italic" text-anchor="end" fill="#000">NFE2L2</text>
<text x="525.0" y="386.06" font-size="7.1" fill="#000">2%</text>
<text x="58.6" y="396.08" font-size="7.2" font-style="italic" text-anchor="end" fill="#000">NTRK3</text>
<text x="525.0" y="396.08" font-size="7.1" fill="#000">2%</text>
<text x="58.6" y="406.11" font-size="7.2" font-style="italic" text-anchor="end" fill="#000">PDGFRA</text>
<text x="525.0" y="406.11" font-size="7.1" fill="#000">2%</text>
<text x="58.6" y="416.15" font-size="7.2" font-style="italic" text-anchor="end" fill="#000">PDK1</text>
<text x="525.0" y="416.15" font-size="7.1" fill="#000">2%</text>
<text x="58.6" y="426.18" font-size="7.2" font-style="italic" text-anchor="end" fill="#000">PTCH2</text>
<text x="525.0" y="426.18" font-size="7.1" fill="#000">2%</text>
<text x="58.6" y="436.2" font-size="7.2" font-style="italic" text-anchor="end" fill="#000">SIM1</text>
<text x="525.0" y="436.2" font-size="7.1" fill="#000">2%</text>
<text x="58.6" y="446.23" font-size="7.2" font-style="italic" text-anchor="end" fill="#000">STAT1</text>
<text x="525.0" y="446.23" font-size="7.1" fill="#000">2%</text>
<rect x="551.7" y="99.1" width="53.32" height="8.7" fill="#4FAFCF"/>
<rect x="605.02" y="99.1" width="38.39" height="8.7" fill="#11967A"/>
<rect x="643.41" y="99.1" width="12.8" height="8.7" fill="#DC4C36"/>
<rect x="656.21" y="99.1" width="2.13" height="8.7" fill="#F2A71A"/>
<rect x="658.34" y="99.1" width="2.13" height="8.7" fill="#F39B7F"/>
<rect x="660.47" y="99.1" width="6.4" height="8.7" fill="#2F84D9"/>
<rect x="666.87" y="99.1" width="14.93" height="8.7" fill="#3B5287"/>
<rect x="551.7" y="109.13" width="10.66" height="8.7" fill="#4FAFCF"/>
<rect x="562.36" y="109.13" width="17.06" height="8.7" fill="#11967A"/>
<rect x="579.43" y="109.13" width="6.4" height="8.7" fill="#DC4C36"/>
<rect x="585.82" y="109.13" width="2.13" height="8.7" fill="#F2A71A"/>
<rect x="587.96" y="109.13" width="2.13" height="8.7" fill="#F39B7F"/>
<rect x="590.09" y="109.13" width="2.13" height="8.7" fill="#3B5287"/>
<rect x="551.7" y="119.16" width="17.06" height="8.7" fill="#4FAFCF"/>
<rect x="568.76" y="119.16" width="2.13" height="8.7" fill="#11967A"/>
<rect x="570.9" y="119.16" width="4.27" height="8.7" fill="#F39B7F"/>
<rect x="575.16" y="119.16" width="4.27" height="8.7" fill="#3B5287"/>
<rect x="551.7" y="129.19" width="12.8" height="8.7" fill="#4FAFCF"/>
<rect x="564.5" y="129.19" width="4.27" height="8.7" fill="#DC4C36"/>
<rect x="551.7" y="139.22" width="8.53" height="8.7" fill="#4FAFCF"/>
<rect x="560.23" y="139.22" width="6.4" height="8.7" fill="#F2A71A"/>
<rect x="551.7" y="149.25" width="2.13" height="8.7" fill="#4FAFCF"/>
<rect x="553.83" y="149.25" width="10.66" height="8.7" fill="#11967A"/>
<rect x="551.7" y="159.28" width="8.53" height="8.7" fill="#4FAFCF"/>
<rect x="560.23" y="159.28" width="4.27" height="8.7" fill="#11967A"/>
<rect x="551.7" y="169.31" width="12.8" height="8.7" fill="#4FAFCF"/>
<rect x="551.7" y="179.34" width="8.53" height="8.7" fill="#4FAFCF"/>
<rect x="560.23" y="179.34" width="2.13" height="8.7" fill="#DC4C36"/>
<rect x="562.36" y="179.34" width="2.13" height="8.7" fill="#F2A71A"/>
<rect x="551.7" y="189.37" width="10.66" height="8.7" fill="#4FAFCF"/>
<rect x="551.7" y="199.4" width="10.66" height="8.7" fill="#4FAFCF"/>
<rect x="551.7" y="209.43" width="6.4" height="8.7" fill="#4FAFCF"/>
<rect x="558.1" y="209.43" width="4.27" height="8.7" fill="#11967A"/>
<rect x="551.7" y="219.46" width="10.66" height="8.7" fill="#4FAFCF"/>
<rect x="551.7" y="229.49" width="10.66" height="8.7" fill="#4FAFCF"/>
<rect x="551.7" y="239.52" width="8.53" height="8.7" fill="#4FAFCF"/>
<rect x="551.7" y="249.55" width="8.53" height="8.7" fill="#4FAFCF"/>
<rect x="551.7" y="259.58" width="8.53" height="8.7" fill="#4FAFCF"/>
<rect x="551.7" y="269.61" width="2.13" height="8.7" fill="#4FAFCF"/>
<rect x="553.83" y="269.61" width="4.27" height="8.7" fill="#F2A71A"/>
<rect x="551.7" y="279.64" width="6.4" height="8.7" fill="#F2A71A"/>
<rect x="551.7" y="289.67" width="6.4" height="8.7" fill="#4FAFCF"/>
<rect x="551.7" y="299.7" width="6.4" height="8.7" fill="#4FAFCF"/>
<rect x="551.7" y="309.73" width="6.4" height="8.7" fill="#4FAFCF"/>
<rect x="551.7" y="319.76" width="6.4" height="8.7" fill="#4FAFCF"/>
<rect x="551.7" y="329.79" width="6.4" height="8.7" fill="#4FAFCF"/>
<rect x="551.7" y="339.82" width="6.4" height="8.7" fill="#4FAFCF"/>
<rect x="551.7" y="349.85" width="6.4" height="8.7" fill="#4FAFCF"/>
<rect x="551.7" y="359.88" width="6.4" height="8.7" fill="#4FAFCF"/>
<rect x="551.7" y="369.91" width="6.4" height="8.7" fill="#4FAFCF"/>
<rect x="551.7" y="379.94" width="4.27" height="8.7" fill="#4FAFCF"/>
<rect x="555.97" y="379.94" width="2.13" height="8.7" fill="#2F84D9"/>
<rect x="551.7" y="389.97" width="6.4" height="8.7" fill="#4FAFCF"/>
<rect x="551.7" y="400" width="6.4" height="8.7" fill="#4FAFCF"/>
<rect x="551.7" y="410.03" width="6.4" height="8.7" fill="#4FAFCF"/>
<rect x="551.7" y="420.06" width="6.4" height="8.7" fill="#11967A"/>
<rect x="551.7" y="430.09" width="6.4" height="8.7" fill="#4FAFCF"/>
<rect x="551.7" y="440.12" width="6.4" height="8.7" fill="#4FAFCF"/>
<path d="M551.7 90.3V95H681.8V90.3" stroke="#3a3a3a" stroke-width="0.9" fill="none"/>
<text x="551.7" y="85.0" font-size="7" text-anchor="middle" fill="#000">0</text>
<text x="681.8" y="85.0" font-size="7" text-anchor="middle" fill="#000">61</text>
<rect x="62.28" y="453.9" width="2.69" height="7.58" fill="#FFBA4E"/>
<rect x="62.28" y="461.43" width="2.69" height="7.58" fill="#009E73"/>
<rect x="62.28" y="468.96" width="2.69" height="7.58" fill="#0A70B8"/>
<rect x="62.28" y="476.49" width="2.69" height="7.58" fill="#D31820"/>
<rect x="65.13" y="453.9" width="2.69" height="7.58" fill="#FFBA4E"/>
<rect x="65.13" y="461.43" width="2.69" height="7.58" fill="#009E73"/>
<rect x="65.13" y="468.96" width="2.69" height="7.58" fill="#0A70B8"/>
<rect x="65.13" y="476.49" width="2.69" height="7.58" fill="#EE9D86"/>
<rect x="67.98" y="453.9" width="2.69" height="7.58" fill="#FFBA4E"/>
<rect x="67.98" y="461.43" width="2.69" height="7.58" fill="#009E73"/>
<rect x="67.98" y="468.96" width="2.69" height="7.58" fill="#EDA10C"/>
<rect x="67.98" y="476.49" width="2.69" height="7.58" fill="#D31820"/>
<rect x="70.83" y="453.9" width="2.69" height="7.58" fill="#FFBA4E"/>
<rect x="70.83" y="461.43" width="2.69" height="7.58" fill="#009E73"/>
<rect x="70.83" y="468.96" width="2.69" height="7.58" fill="#0A70B8"/>
<rect x="70.83" y="476.49" width="2.69" height="7.58" fill="#D31820"/>
<rect x="73.68" y="453.9" width="2.69" height="7.58" fill="#FFBA4E"/>
<rect x="73.68" y="461.43" width="2.69" height="7.58" fill="#009E73"/>
<rect x="73.68" y="468.96" width="2.69" height="7.58" fill="#0A70B8"/>
<rect x="73.68" y="476.49" width="2.69" height="7.58" fill="#D31820"/>
<rect x="76.53" y="453.9" width="2.69" height="7.58" fill="#FFBA4E"/>
<rect x="76.53" y="461.43" width="2.69" height="7.58" fill="#009E73"/>
<rect x="76.53" y="468.96" width="2.69" height="7.58" fill="#EDA10C"/>
<rect x="76.53" y="476.49" width="2.69" height="7.58" fill="#EE9D86"/>
<rect x="79.37" y="453.9" width="2.69" height="7.58" fill="#FFBA4E"/>
<rect x="79.37" y="461.43" width="2.69" height="7.58" fill="#009E73"/>
<rect x="79.37" y="468.96" width="2.69" height="7.58" fill="#0A70B8"/>
<rect x="79.37" y="476.49" width="2.69" height="7.58" fill="#EE9D86"/>
<rect x="82.22" y="453.9" width="2.69" height="7.58" fill="#FFBA4E"/>
<rect x="82.22" y="461.43" width="2.69" height="7.58" fill="#F0E442"/>
<rect x="82.22" y="468.96" width="2.69" height="7.58" fill="#0A70B8"/>
<rect x="82.22" y="476.49" width="2.69" height="7.58" fill="#EE9D86"/>
<rect x="85.07" y="453.9" width="2.69" height="7.58" fill="#FFBA4E"/>
<rect x="85.07" y="461.43" width="2.69" height="7.58" fill="#009E73"/>
<rect x="85.07" y="468.96" width="2.69" height="7.58" fill="#EDA10C"/>
<rect x="85.07" y="476.49" width="2.69" height="7.58" fill="#D31820"/>
<rect x="87.92" y="453.9" width="2.69" height="7.58" fill="#FFBA4E"/>
<rect x="87.92" y="461.43" width="2.69" height="7.58" fill="#009E73"/>
<rect x="87.92" y="468.96" width="2.69" height="7.58" fill="#0A70B8"/>
<rect x="87.92" y="476.49" width="2.69" height="7.58" fill="#D31820"/>
<rect x="90.77" y="453.9" width="2.69" height="7.58" fill="#FFBA4E"/>
<rect x="90.77" y="461.43" width="2.69" height="7.58" fill="#009E73"/>
<rect x="90.77" y="468.96" width="2.69" height="7.58" fill="#0A70B8"/>
<rect x="90.77" y="476.49" width="2.69" height="7.58" fill="#EE9D86"/>
<rect x="93.62" y="453.9" width="2.69" height="7.58" fill="#FFBA4E"/>
<rect x="93.62" y="461.43" width="2.69" height="7.58" fill="#009E73"/>
<rect x="93.62" y="468.96" width="2.69" height="7.58" fill="#0A70B8"/>
<rect x="93.62" y="476.49" width="2.69" height="7.58" fill="#D31820"/>
<rect x="96.47" y="453.9" width="2.69" height="7.58" fill="#FFBA4E"/>
<rect x="96.47" y="461.43" width="2.69" height="7.58" fill="#009E73"/>
<rect x="96.47" y="468.96" width="2.69" height="7.58" fill="#0A70B8"/>
<rect x="96.47" y="476.49" width="2.69" height="7.58" fill="#EE9D86"/>
<rect x="99.32" y="453.9" width="2.69" height="7.58" fill="#FFBA4E"/>
<rect x="99.32" y="461.43" width="2.69" height="7.58" fill="#009E73"/>
<rect x="99.32" y="468.96" width="2.69" height="7.58" fill="#0A70B8"/>
<rect x="99.32" y="476.49" width="2.69" height="7.58" fill="#D31820"/>
<rect x="102.17" y="453.9" width="2.69" height="7.58" fill="#FFBA4E"/>
<rect x="102.17" y="461.43" width="2.69" height="7.58" fill="#009E73"/>
<rect x="102.17" y="468.96" width="2.69" height="7.58" fill="#0A70B8"/>
<rect x="102.17" y="476.49" width="2.69" height="7.58" fill="#EE9D86"/>
<rect x="105.02" y="453.9" width="2.69" height="7.58" fill="#FFBA4E"/>
<rect x="105.02" y="461.43" width="2.69" height="7.58" fill="#F0E442"/>
<rect x="105.02" y="468.96" width="2.69" height="7.58" fill="#0A70B8"/>
<rect x="105.02" y="476.49" width="2.69" height="7.58" fill="#EE9D86"/>
<rect x="107.86" y="453.9" width="2.69" height="7.58" fill="#FFBA4E"/>
<rect x="107.86" y="461.43" width="2.69" height="7.58" fill="#009E73"/>
<rect x="107.86" y="468.96" width="2.69" height="7.58" fill="#0A70B8"/>
<rect x="107.86" y="476.49" width="2.69" height="7.58" fill="#EE9D86"/>
<rect x="110.71" y="453.9" width="2.69" height="7.58" fill="#FFBA4E"/>
<rect x="110.71" y="461.43" width="2.69" height="7.58" fill="#009E73"/>
<rect x="110.71" y="468.96" width="2.69" height="7.58" fill="#EDA10C"/>
<rect x="110.71" y="476.49" width="2.69" height="7.58" fill="#EE9D86"/>
<rect x="113.56" y="453.9" width="2.69" height="7.58" fill="#FFBA4E"/>
<rect x="113.56" y="461.43" width="2.69" height="7.58" fill="#F0E442"/>
<rect x="113.56" y="468.96" width="2.69" height="7.58" fill="#EDA10C"/>
<rect x="113.56" y="476.49" width="2.69" height="7.58" fill="#EE9D86"/>
<rect x="116.41" y="453.9" width="2.69" height="7.58" fill="#FFBA4E"/>
<rect x="116.41" y="461.43" width="2.69" height="7.58" fill="#009E73"/>
<rect x="116.41" y="468.96" width="2.69" height="7.58" fill="#0A70B8"/>
<rect x="116.41" y="476.49" width="2.69" height="7.58" fill="#EE9D86"/>
<rect x="119.26" y="453.9" width="2.69" height="7.58" fill="#FFBA4E"/>
<rect x="119.26" y="461.43" width="2.69" height="7.58" fill="#009E73"/>
<rect x="119.26" y="468.96" width="2.69" height="7.58" fill="#0A70B8"/>
<rect x="119.26" y="476.49" width="2.69" height="7.58" fill="#EE9D86"/>
<rect x="122.11" y="453.9" width="2.69" height="7.58" fill="#FFBA4E"/>
<rect x="122.11" y="461.43" width="2.69" height="7.58" fill="#009E73"/>
<rect x="122.11" y="468.96" width="2.69" height="7.58" fill="#0A70B8"/>
<rect x="122.11" y="476.49" width="2.69" height="7.58" fill="#EE9D86"/>
<rect x="124.96" y="453.9" width="2.69" height="7.58" fill="#FFBA4E"/>
<rect x="124.96" y="461.43" width="2.69" height="7.58" fill="#009E73"/>
<rect x="124.96" y="468.96" width="2.69" height="7.58" fill="#0A70B8"/>
<rect x="124.96" y="476.49" width="2.69" height="7.58" fill="#EE9D86"/>
<rect x="127.81" y="453.9" width="2.69" height="7.58" fill="#FFBA4E"/>
<rect x="127.81" y="461.43" width="2.69" height="7.58" fill="#009E73"/>
<rect x="127.81" y="468.96" width="2.69" height="7.58" fill="#0A70B8"/>
<rect x="127.81" y="476.49" width="2.69" height="7.58" fill="#EE9D86"/>
<rect x="130.66" y="453.9" width="2.69" height="7.58" fill="#FFBA4E"/>
<rect x="130.66" y="461.43" width="2.69" height="7.58" fill="#BEBEBE"/>
<rect x="130.66" y="468.96" width="2.69" height="7.58" fill="#EDA10C"/>
<rect x="130.66" y="476.49" width="2.69" height="7.58" fill="#D31820"/>
<rect x="133.51" y="453.9" width="2.69" height="7.58" fill="#FFBA4E"/>
<rect x="133.51" y="461.43" width="2.69" height="7.58" fill="#F0E442"/>
<rect x="133.51" y="468.96" width="2.69" height="7.58" fill="#EDA10C"/>
<rect x="133.51" y="476.49" width="2.69" height="7.58" fill="#EE9D86"/>
<rect x="136.35" y="453.9" width="2.69" height="7.58" fill="#FFBA4E"/>
<rect x="136.35" y="461.43" width="2.69" height="7.58" fill="#F0E442"/>
<rect x="136.35" y="468.96" width="2.69" height="7.58" fill="#EDA10C"/>
<rect x="136.35" y="476.49" width="2.69" height="7.58" fill="#EE9D86"/>
<rect x="139.2" y="453.9" width="2.69" height="7.58" fill="#F5387C"/>
<rect x="139.2" y="461.43" width="2.69" height="7.58" fill="#009E73"/>
<rect x="139.2" y="468.96" width="2.69" height="7.58" fill="#0A70B8"/>
<rect x="139.2" y="476.49" width="2.69" height="7.58" fill="#D31820"/>
<rect x="142.05" y="453.9" width="2.69" height="7.58" fill="#F5387C"/>
<rect x="142.05" y="461.43" width="2.69" height="7.58" fill="#009E73"/>
<rect x="142.05" y="468.96" width="2.69" height="7.58" fill="#0A70B8"/>
<rect x="142.05" y="476.49" width="2.69" height="7.58" fill="#EE9D86"/>
<rect x="144.9" y="453.9" width="2.69" height="7.58" fill="#F5387C"/>
<rect x="144.9" y="461.43" width="2.69" height="7.58" fill="#009E73"/>
<rect x="144.9" y="468.96" width="2.69" height="7.58" fill="#EDA10C"/>
<rect x="144.9" y="476.49" width="2.69" height="7.58" fill="#D31820"/>
<rect x="147.75" y="453.9" width="2.69" height="7.58" fill="#F5387C"/>
<rect x="147.75" y="461.43" width="2.69" height="7.58" fill="#009E73"/>
<rect x="147.75" y="468.96" width="2.69" height="7.58" fill="#0A70B8"/>
<rect x="147.75" y="476.49" width="2.69" height="7.58" fill="#D31820"/>
<rect x="150.6" y="453.9" width="2.69" height="7.58" fill="#F5387C"/>
<rect x="150.6" y="461.43" width="2.69" height="7.58" fill="#009E73"/>
<rect x="150.6" y="468.96" width="2.69" height="7.58" fill="#0A70B8"/>
<rect x="150.6" y="476.49" width="2.69" height="7.58" fill="#D31820"/>
<rect x="153.45" y="453.9" width="2.69" height="7.58" fill="#F5387C"/>
<rect x="153.45" y="461.43" width="2.69" height="7.58" fill="#009E73"/>
<rect x="153.45" y="468.96" width="2.69" height="7.58" fill="#EDA10C"/>
<rect x="153.45" y="476.49" width="2.69" height="7.58" fill="#EE9D86"/>
<rect x="156.3" y="453.9" width="2.69" height="7.58" fill="#F5387C"/>
<rect x="156.3" y="461.43" width="2.69" height="7.58" fill="#009E73"/>
<rect x="156.3" y="468.96" width="2.69" height="7.58" fill="#0A70B8"/>
<rect x="156.3" y="476.49" width="2.69" height="7.58" fill="#EE9D86"/>
<rect x="159.15" y="453.9" width="2.69" height="7.58" fill="#F5387C"/>
<rect x="159.15" y="461.43" width="2.69" height="7.58" fill="#F0E442"/>
<rect x="159.15" y="468.96" width="2.69" height="7.58" fill="#0A70B8"/>
<rect x="159.15" y="476.49" width="2.69" height="7.58" fill="#EE9D86"/>
<rect x="162" y="453.9" width="2.69" height="7.58" fill="#F5387C"/>
<rect x="162" y="461.43" width="2.69" height="7.58" fill="#009E73"/>
<rect x="162" y="468.96" width="2.69" height="7.58" fill="#EDA10C"/>
<rect x="162" y="476.49" width="2.69" height="7.58" fill="#D31820"/>
<rect x="164.84" y="453.9" width="2.69" height="7.58" fill="#F5387C"/>
<rect x="164.84" y="461.43" width="2.69" height="7.58" fill="#009E73"/>
<rect x="164.84" y="468.96" width="2.69" height="7.58" fill="#0A70B8"/>
<rect x="164.84" y="476.49" width="2.69" height="7.58" fill="#D31820"/>
<rect x="167.69" y="453.9" width="2.69" height="7.58" fill="#F5387C"/>
<rect x="167.69" y="461.43" width="2.69" height="7.58" fill="#009E73"/>
<rect x="167.69" y="468.96" width="2.69" height="7.58" fill="#0A70B8"/>
<rect x="167.69" y="476.49" width="2.69" height="7.58" fill="#EE9D86"/>
<rect x="170.54" y="453.9" width="2.69" height="7.58" fill="#F5387C"/>
<rect x="170.54" y="461.43" width="2.69" height="7.58" fill="#009E73"/>
<rect x="170.54" y="468.96" width="2.69" height="7.58" fill="#0A70B8"/>
<rect x="170.54" y="476.49" width="2.69" height="7.58" fill="#D31820"/>
<rect x="173.39" y="453.9" width="2.69" height="7.58" fill="#F5387C"/>
<rect x="173.39" y="461.43" width="2.69" height="7.58" fill="#009E73"/>
<rect x="173.39" y="468.96" width="2.69" height="7.58" fill="#0A70B8"/>
<rect x="173.39" y="476.49" width="2.69" height="7.58" fill="#EE9D86"/>
<rect x="176.24" y="453.9" width="2.69" height="7.58" fill="#F5387C"/>
<rect x="176.24" y="461.43" width="2.69" height="7.58" fill="#009E73"/>
<rect x="176.24" y="468.96" width="2.69" height="7.58" fill="#0A70B8"/>
<rect x="176.24" y="476.49" width="2.69" height="7.58" fill="#D31820"/>
<rect x="179.09" y="453.9" width="2.69" height="7.58" fill="#F5387C"/>
<rect x="179.09" y="461.43" width="2.69" height="7.58" fill="#009E73"/>
<rect x="179.09" y="468.96" width="2.69" height="7.58" fill="#0A70B8"/>
<rect x="179.09" y="476.49" width="2.69" height="7.58" fill="#EE9D86"/>
<rect x="181.94" y="453.9" width="2.69" height="7.58" fill="#F5387C"/>
<rect x="181.94" y="461.43" width="2.69" height="7.58" fill="#F0E442"/>
<rect x="181.94" y="468.96" width="2.69" height="7.58" fill="#0A70B8"/>
<rect x="181.94" y="476.49" width="2.69" height="7.58" fill="#EE9D86"/>
<rect x="184.79" y="453.9" width="2.69" height="7.58" fill="#F5387C"/>
<rect x="184.79" y="461.43" width="2.69" height="7.58" fill="#009E73"/>
<rect x="184.79" y="468.96" width="2.69" height="7.58" fill="#0A70B8"/>
<rect x="184.79" y="476.49" width="2.69" height="7.58" fill="#EE9D86"/>
<rect x="187.64" y="453.9" width="2.69" height="7.58" fill="#F5387C"/>
<rect x="187.64" y="461.43" width="2.69" height="7.58" fill="#009E73"/>
<rect x="187.64" y="468.96" width="2.69" height="7.58" fill="#EDA10C"/>
<rect x="187.64" y="476.49" width="2.69" height="7.58" fill="#EE9D86"/>
<rect x="190.49" y="453.9" width="2.69" height="7.58" fill="#F5387C"/>
<rect x="190.49" y="461.43" width="2.69" height="7.58" fill="#F0E442"/>
<rect x="190.49" y="468.96" width="2.69" height="7.58" fill="#EDA10C"/>
<rect x="190.49" y="476.49" width="2.69" height="7.58" fill="#EE9D86"/>
<rect x="193.33" y="453.9" width="2.69" height="7.58" fill="#F5387C"/>
<rect x="193.33" y="461.43" width="2.69" height="7.58" fill="#009E73"/>
<rect x="193.33" y="468.96" width="2.69" height="7.58" fill="#0A70B8"/>
<rect x="193.33" y="476.49" width="2.69" height="7.58" fill="#EE9D86"/>
<rect x="196.18" y="453.9" width="2.69" height="7.58" fill="#F5387C"/>
<rect x="196.18" y="461.43" width="2.69" height="7.58" fill="#009E73"/>
<rect x="196.18" y="468.96" width="2.69" height="7.58" fill="#0A70B8"/>
<rect x="196.18" y="476.49" width="2.69" height="7.58" fill="#EE9D86"/>
<rect x="199.03" y="453.9" width="2.69" height="7.58" fill="#F5387C"/>
<rect x="199.03" y="461.43" width="2.69" height="7.58" fill="#009E73"/>
<rect x="199.03" y="468.96" width="2.69" height="7.58" fill="#0A70B8"/>
<rect x="199.03" y="476.49" width="2.69" height="7.58" fill="#EE9D86"/>
<rect x="201.88" y="453.9" width="2.69" height="7.58" fill="#F5387C"/>
<rect x="201.88" y="461.43" width="2.69" height="7.58" fill="#009E73"/>
<rect x="201.88" y="468.96" width="2.69" height="7.58" fill="#0A70B8"/>
<rect x="201.88" y="476.49" width="2.69" height="7.58" fill="#EE9D86"/>
<rect x="204.73" y="453.9" width="2.69" height="7.58" fill="#F5387C"/>
<rect x="204.73" y="461.43" width="2.69" height="7.58" fill="#009E73"/>
<rect x="204.73" y="468.96" width="2.69" height="7.58" fill="#0A70B8"/>
<rect x="204.73" y="476.49" width="2.69" height="7.58" fill="#EE9D86"/>
<rect x="207.58" y="453.9" width="2.69" height="7.58" fill="#F5387C"/>
<rect x="207.58" y="461.43" width="2.69" height="7.58" fill="#F0E442"/>
<rect x="207.58" y="468.96" width="2.69" height="7.58" fill="#EDA10C"/>
<rect x="207.58" y="476.49" width="2.69" height="7.58" fill="#EE9D86"/>
<rect x="210.43" y="453.9" width="2.69" height="7.58" fill="#F5387C"/>
<rect x="210.43" y="461.43" width="2.69" height="7.58" fill="#F0E442"/>
<rect x="210.43" y="468.96" width="2.69" height="7.58" fill="#EDA10C"/>
<rect x="210.43" y="476.49" width="2.69" height="7.58" fill="#EE9D86"/>
<rect x="213.28" y="453.9" width="2.69" height="7.58" fill="#4B88F2"/>
<rect x="213.28" y="461.43" width="2.69" height="7.58" fill="#009E73"/>
<rect x="213.28" y="468.96" width="2.69" height="7.58" fill="#0A70B8"/>
<rect x="213.28" y="476.49" width="2.69" height="7.58" fill="#D31820"/>
<rect x="216.13" y="453.9" width="2.69" height="7.58" fill="#4B88F2"/>
<rect x="216.13" y="461.43" width="2.69" height="7.58" fill="#009E73"/>
<rect x="216.13" y="468.96" width="2.69" height="7.58" fill="#0A70B8"/>
<rect x="216.13" y="476.49" width="2.69" height="7.58" fill="#EE9D86"/>
<rect x="218.98" y="453.9" width="2.69" height="7.58" fill="#4B88F2"/>
<rect x="218.98" y="461.43" width="2.69" height="7.58" fill="#009E73"/>
<rect x="218.98" y="468.96" width="2.69" height="7.58" fill="#EDA10C"/>
<rect x="218.98" y="476.49" width="2.69" height="7.58" fill="#D31820"/>
<rect x="221.82" y="453.9" width="2.69" height="7.58" fill="#4B88F2"/>
<rect x="221.82" y="461.43" width="2.69" height="7.58" fill="#009E73"/>
<rect x="221.82" y="468.96" width="2.69" height="7.58" fill="#0A70B8"/>
<rect x="221.82" y="476.49" width="2.69" height="7.58" fill="#D31820"/>
<rect x="224.67" y="453.9" width="2.69" height="7.58" fill="#4B88F2"/>
<rect x="224.67" y="461.43" width="2.69" height="7.58" fill="#009E73"/>
<rect x="224.67" y="468.96" width="2.69" height="7.58" fill="#0A70B8"/>
<rect x="224.67" y="476.49" width="2.69" height="7.58" fill="#D31820"/>
<rect x="227.52" y="453.9" width="2.69" height="7.58" fill="#4B88F2"/>
<rect x="227.52" y="461.43" width="2.69" height="7.58" fill="#009E73"/>
<rect x="227.52" y="468.96" width="2.69" height="7.58" fill="#EDA10C"/>
<rect x="227.52" y="476.49" width="2.69" height="7.58" fill="#EE9D86"/>
<rect x="230.37" y="453.9" width="2.69" height="7.58" fill="#4B88F2"/>
<rect x="230.37" y="461.43" width="2.69" height="7.58" fill="#009E73"/>
<rect x="230.37" y="468.96" width="2.69" height="7.58" fill="#0A70B8"/>
<rect x="230.37" y="476.49" width="2.69" height="7.58" fill="#EE9D86"/>
<rect x="233.22" y="453.9" width="2.69" height="7.58" fill="#4B88F2"/>
<rect x="233.22" y="461.43" width="2.69" height="7.58" fill="#F0E442"/>
<rect x="233.22" y="468.96" width="2.69" height="7.58" fill="#0A70B8"/>
<rect x="233.22" y="476.49" width="2.69" height="7.58" fill="#EE9D86"/>
<rect x="236.07" y="453.9" width="2.69" height="7.58" fill="#4B88F2"/>
<rect x="236.07" y="461.43" width="2.69" height="7.58" fill="#009E73"/>
<rect x="236.07" y="468.96" width="2.69" height="7.58" fill="#EDA10C"/>
<rect x="236.07" y="476.49" width="2.69" height="7.58" fill="#D31820"/>
<rect x="238.92" y="453.9" width="2.69" height="7.58" fill="#4B88F2"/>
<rect x="238.92" y="461.43" width="2.69" height="7.58" fill="#009E73"/>
<rect x="238.92" y="468.96" width="2.69" height="7.58" fill="#0A70B8"/>
<rect x="238.92" y="476.49" width="2.69" height="7.58" fill="#D31820"/>
<rect x="241.77" y="453.9" width="2.69" height="7.58" fill="#4B88F2"/>
<rect x="241.77" y="461.43" width="2.69" height="7.58" fill="#009E73"/>
<rect x="241.77" y="468.96" width="2.69" height="7.58" fill="#0A70B8"/>
<rect x="241.77" y="476.49" width="2.69" height="7.58" fill="#EE9D86"/>
<rect x="244.62" y="453.9" width="2.69" height="7.58" fill="#4B88F2"/>
<rect x="244.62" y="461.43" width="2.69" height="7.58" fill="#009E73"/>
<rect x="244.62" y="468.96" width="2.69" height="7.58" fill="#0A70B8"/>
<rect x="244.62" y="476.49" width="2.69" height="7.58" fill="#D31820"/>
<rect x="247.47" y="453.9" width="2.69" height="7.58" fill="#4B88F2"/>
<rect x="247.47" y="461.43" width="2.69" height="7.58" fill="#009E73"/>
<rect x="247.47" y="468.96" width="2.69" height="7.58" fill="#0A70B8"/>
<rect x="247.47" y="476.49" width="2.69" height="7.58" fill="#EE9D86"/>
<rect x="250.31" y="453.9" width="2.69" height="7.58" fill="#4B88F2"/>
<rect x="250.31" y="461.43" width="2.69" height="7.58" fill="#009E73"/>
<rect x="250.31" y="468.96" width="2.69" height="7.58" fill="#0A70B8"/>
<rect x="250.31" y="476.49" width="2.69" height="7.58" fill="#D31820"/>
<rect x="253.16" y="453.9" width="2.69" height="7.58" fill="#4B88F2"/>
<rect x="253.16" y="461.43" width="2.69" height="7.58" fill="#009E73"/>
<rect x="253.16" y="468.96" width="2.69" height="7.58" fill="#0A70B8"/>
<rect x="253.16" y="476.49" width="2.69" height="7.58" fill="#EE9D86"/>
<rect x="256.01" y="453.9" width="2.69" height="7.58" fill="#4B88F2"/>
<rect x="256.01" y="461.43" width="2.69" height="7.58" fill="#F0E442"/>
<rect x="256.01" y="468.96" width="2.69" height="7.58" fill="#0A70B8"/>
<rect x="256.01" y="476.49" width="2.69" height="7.58" fill="#EE9D86"/>
<rect x="258.86" y="453.9" width="2.69" height="7.58" fill="#4B88F2"/>
<rect x="258.86" y="461.43" width="2.69" height="7.58" fill="#009E73"/>
<rect x="258.86" y="468.96" width="2.69" height="7.58" fill="#0A70B8"/>
<rect x="258.86" y="476.49" width="2.69" height="7.58" fill="#EE9D86"/>
<rect x="261.71" y="453.9" width="2.69" height="7.58" fill="#4B88F2"/>
<rect x="261.71" y="461.43" width="2.69" height="7.58" fill="#009E73"/>
<rect x="261.71" y="468.96" width="2.69" height="7.58" fill="#EDA10C"/>
<rect x="261.71" y="476.49" width="2.69" height="7.58" fill="#EE9D86"/>
<rect x="264.56" y="453.9" width="2.69" height="7.58" fill="#4B88F2"/>
<rect x="264.56" y="461.43" width="2.69" height="7.58" fill="#F0E442"/>
<rect x="264.56" y="468.96" width="2.69" height="7.58" fill="#EDA10C"/>
<rect x="264.56" y="476.49" width="2.69" height="7.58" fill="#EE9D86"/>
<rect x="267.41" y="453.9" width="2.69" height="7.58" fill="#4B88F2"/>
<rect x="267.41" y="461.43" width="2.69" height="7.58" fill="#009E73"/>
<rect x="267.41" y="468.96" width="2.69" height="7.58" fill="#0A70B8"/>
<rect x="267.41" y="476.49" width="2.69" height="7.58" fill="#EE9D86"/>
<rect x="270.26" y="453.9" width="2.69" height="7.58" fill="#4B88F2"/>
<rect x="270.26" y="461.43" width="2.69" height="7.58" fill="#009E73"/>
<rect x="270.26" y="468.96" width="2.69" height="7.58" fill="#0A70B8"/>
<rect x="270.26" y="476.49" width="2.69" height="7.58" fill="#EE9D86"/>
<rect x="273.11" y="453.9" width="2.69" height="7.58" fill="#4B88F2"/>
<rect x="273.11" y="461.43" width="2.69" height="7.58" fill="#009E73"/>
<rect x="273.11" y="468.96" width="2.69" height="7.58" fill="#0A70B8"/>
<rect x="273.11" y="476.49" width="2.69" height="7.58" fill="#EE9D86"/>
<rect x="275.95" y="453.9" width="2.69" height="7.58" fill="#4B88F2"/>
<rect x="275.95" y="461.43" width="2.69" height="7.58" fill="#009E73"/>
<rect x="275.95" y="468.96" width="2.69" height="7.58" fill="#0A70B8"/>
<rect x="275.95" y="476.49" width="2.69" height="7.58" fill="#EE9D86"/>
<rect x="278.8" y="453.9" width="2.69" height="7.58" fill="#4B88F2"/>
<rect x="278.8" y="461.43" width="2.69" height="7.58" fill="#009E73"/>
<rect x="278.8" y="468.96" width="2.69" height="7.58" fill="#0A70B8"/>
<rect x="278.8" y="476.49" width="2.69" height="7.58" fill="#EE9D86"/>
<rect x="281.65" y="453.9" width="2.69" height="7.58" fill="#4B88F2"/>
<rect x="281.65" y="461.43" width="2.69" height="7.58" fill="#BEBEBE"/>
<rect x="281.65" y="468.96" width="2.69" height="7.58" fill="#EDA10C"/>
<rect x="281.65" y="476.49" width="2.69" height="7.58" fill="#D31820"/>
<rect x="284.5" y="453.9" width="2.69" height="7.58" fill="#4B88F2"/>
<rect x="284.5" y="461.43" width="2.69" height="7.58" fill="#F0E442"/>
<rect x="284.5" y="468.96" width="2.69" height="7.58" fill="#EDA10C"/>
<rect x="284.5" y="476.49" width="2.69" height="7.58" fill="#EE9D86"/>
<rect x="287.35" y="453.9" width="2.69" height="7.58" fill="#4B88F2"/>
<rect x="287.35" y="461.43" width="2.69" height="7.58" fill="#F0E442"/>
<rect x="287.35" y="468.96" width="2.69" height="7.58" fill="#EDA10C"/>
<rect x="287.35" y="476.49" width="2.69" height="7.58" fill="#EE9D86"/>
<rect x="290.2" y="453.9" width="2.69" height="7.58" fill="#4DF25F"/>
<rect x="290.2" y="461.43" width="2.69" height="7.58" fill="#009E73"/>
<rect x="290.2" y="468.96" width="2.69" height="7.58" fill="#0A70B8"/>
<rect x="290.2" y="476.49" width="2.69" height="7.58" fill="#D31820"/>
<rect x="293.05" y="453.9" width="2.69" height="7.58" fill="#4DF25F"/>
<rect x="293.05" y="461.43" width="2.69" height="7.58" fill="#009E73"/>
<rect x="293.05" y="468.96" width="2.69" height="7.58" fill="#0A70B8"/>
<rect x="293.05" y="476.49" width="2.69" height="7.58" fill="#EE9D86"/>
<rect x="295.9" y="453.9" width="2.69" height="7.58" fill="#4DF25F"/>
<rect x="295.9" y="461.43" width="2.69" height="7.58" fill="#009E73"/>
<rect x="295.9" y="468.96" width="2.69" height="7.58" fill="#EDA10C"/>
<rect x="295.9" y="476.49" width="2.69" height="7.58" fill="#D31820"/>
<rect x="298.75" y="453.9" width="2.69" height="7.58" fill="#4DF25F"/>
<rect x="298.75" y="461.43" width="2.69" height="7.58" fill="#009E73"/>
<rect x="298.75" y="468.96" width="2.69" height="7.58" fill="#0A70B8"/>
<rect x="298.75" y="476.49" width="2.69" height="7.58" fill="#D31820"/>
<rect x="301.6" y="453.9" width="2.69" height="7.58" fill="#4DF25F"/>
<rect x="301.6" y="461.43" width="2.69" height="7.58" fill="#009E73"/>
<rect x="301.6" y="468.96" width="2.69" height="7.58" fill="#0A70B8"/>
<rect x="301.6" y="476.49" width="2.69" height="7.58" fill="#D31820"/>
<rect x="304.44" y="453.9" width="2.69" height="7.58" fill="#4DF25F"/>
<rect x="304.44" y="461.43" width="2.69" height="7.58" fill="#009E73"/>
<rect x="304.44" y="468.96" width="2.69" height="7.58" fill="#EDA10C"/>
<rect x="304.44" y="476.49" width="2.69" height="7.58" fill="#EE9D86"/>
<rect x="307.29" y="453.9" width="2.69" height="7.58" fill="#4DF25F"/>
<rect x="307.29" y="461.43" width="2.69" height="7.58" fill="#009E73"/>
<rect x="307.29" y="468.96" width="2.69" height="7.58" fill="#0A70B8"/>
<rect x="307.29" y="476.49" width="2.69" height="7.58" fill="#EE9D86"/>
<rect x="310.14" y="453.9" width="2.69" height="7.58" fill="#4DF25F"/>
<rect x="310.14" y="461.43" width="2.69" height="7.58" fill="#F0E442"/>
<rect x="310.14" y="468.96" width="2.69" height="7.58" fill="#0A70B8"/>
<rect x="310.14" y="476.49" width="2.69" height="7.58" fill="#EE9D86"/>
<rect x="312.99" y="453.9" width="2.69" height="7.58" fill="#4DF25F"/>
<rect x="312.99" y="461.43" width="2.69" height="7.58" fill="#009E73"/>
<rect x="312.99" y="468.96" width="2.69" height="7.58" fill="#EDA10C"/>
<rect x="312.99" y="476.49" width="2.69" height="7.58" fill="#D31820"/>
<rect x="315.84" y="453.9" width="2.69" height="7.58" fill="#4DF25F"/>
<rect x="315.84" y="461.43" width="2.69" height="7.58" fill="#009E73"/>
<rect x="315.84" y="468.96" width="2.69" height="7.58" fill="#0A70B8"/>
<rect x="315.84" y="476.49" width="2.69" height="7.58" fill="#D31820"/>
<rect x="318.69" y="453.9" width="2.69" height="7.58" fill="#4DF25F"/>
<rect x="318.69" y="461.43" width="2.69" height="7.58" fill="#009E73"/>
<rect x="318.69" y="468.96" width="2.69" height="7.58" fill="#0A70B8"/>
<rect x="318.69" y="476.49" width="2.69" height="7.58" fill="#EE9D86"/>
<rect x="321.54" y="453.9" width="2.69" height="7.58" fill="#4DF25F"/>
<rect x="321.54" y="461.43" width="2.69" height="7.58" fill="#009E73"/>
<rect x="321.54" y="468.96" width="2.69" height="7.58" fill="#0A70B8"/>
<rect x="321.54" y="476.49" width="2.69" height="7.58" fill="#D31820"/>
<rect x="324.39" y="453.9" width="2.69" height="7.58" fill="#4DF25F"/>
<rect x="324.39" y="461.43" width="2.69" height="7.58" fill="#009E73"/>
<rect x="324.39" y="468.96" width="2.69" height="7.58" fill="#0A70B8"/>
<rect x="324.39" y="476.49" width="2.69" height="7.58" fill="#EE9D86"/>
<rect x="327.24" y="453.9" width="2.69" height="7.58" fill="#4DF25F"/>
<rect x="327.24" y="461.43" width="2.69" height="7.58" fill="#009E73"/>
<rect x="327.24" y="468.96" width="2.69" height="7.58" fill="#0A70B8"/>
<rect x="327.24" y="476.49" width="2.69" height="7.58" fill="#D31820"/>
<rect x="330.09" y="453.9" width="2.69" height="7.58" fill="#4DF25F"/>
<rect x="330.09" y="461.43" width="2.69" height="7.58" fill="#009E73"/>
<rect x="330.09" y="468.96" width="2.69" height="7.58" fill="#0A70B8"/>
<rect x="330.09" y="476.49" width="2.69" height="7.58" fill="#EE9D86"/>
<rect x="332.94" y="453.9" width="2.69" height="7.58" fill="#4DF25F"/>
<rect x="332.94" y="461.43" width="2.69" height="7.58" fill="#F0E442"/>
<rect x="332.94" y="468.96" width="2.69" height="7.58" fill="#0A70B8"/>
<rect x="332.94" y="476.49" width="2.69" height="7.58" fill="#EE9D86"/>
<rect x="335.78" y="453.9" width="2.69" height="7.58" fill="#4DF25F"/>
<rect x="335.78" y="461.43" width="2.69" height="7.58" fill="#009E73"/>
<rect x="335.78" y="468.96" width="2.69" height="7.58" fill="#0A70B8"/>
<rect x="335.78" y="476.49" width="2.69" height="7.58" fill="#EE9D86"/>
<rect x="338.63" y="453.9" width="2.69" height="7.58" fill="#4DF25F"/>
<rect x="338.63" y="461.43" width="2.69" height="7.58" fill="#009E73"/>
<rect x="338.63" y="468.96" width="2.69" height="7.58" fill="#EDA10C"/>
<rect x="338.63" y="476.49" width="2.69" height="7.58" fill="#EE9D86"/>
<rect x="341.48" y="453.9" width="2.69" height="7.58" fill="#4DF25F"/>
<rect x="341.48" y="461.43" width="2.69" height="7.58" fill="#F0E442"/>
<rect x="341.48" y="468.96" width="2.69" height="7.58" fill="#EDA10C"/>
<rect x="341.48" y="476.49" width="2.69" height="7.58" fill="#EE9D86"/>
<rect x="344.33" y="453.9" width="2.69" height="7.58" fill="#4DF25F"/>
<rect x="344.33" y="461.43" width="2.69" height="7.58" fill="#009E73"/>
<rect x="344.33" y="468.96" width="2.69" height="7.58" fill="#0A70B8"/>
<rect x="344.33" y="476.49" width="2.69" height="7.58" fill="#EE9D86"/>
<rect x="347.18" y="453.9" width="2.69" height="7.58" fill="#4DF25F"/>
<rect x="347.18" y="461.43" width="2.69" height="7.58" fill="#009E73"/>
<rect x="347.18" y="468.96" width="2.69" height="7.58" fill="#0A70B8"/>
<rect x="347.18" y="476.49" width="2.69" height="7.58" fill="#EE9D86"/>
<rect x="350.03" y="453.9" width="2.69" height="7.58" fill="#4DF25F"/>
<rect x="350.03" y="461.43" width="2.69" height="7.58" fill="#009E73"/>
<rect x="350.03" y="468.96" width="2.69" height="7.58" fill="#0A70B8"/>
<rect x="350.03" y="476.49" width="2.69" height="7.58" fill="#EE9D86"/>
<rect x="352.88" y="453.9" width="2.69" height="7.58" fill="#4DF25F"/>
<rect x="352.88" y="461.43" width="2.69" height="7.58" fill="#009E73"/>
<rect x="352.88" y="468.96" width="2.69" height="7.58" fill="#0A70B8"/>
<rect x="352.88" y="476.49" width="2.69" height="7.58" fill="#EE9D86"/>
<rect x="355.73" y="453.9" width="2.69" height="7.58" fill="#4DF25F"/>
<rect x="355.73" y="461.43" width="2.69" height="7.58" fill="#009E73"/>
<rect x="355.73" y="468.96" width="2.69" height="7.58" fill="#0A70B8"/>
<rect x="355.73" y="476.49" width="2.69" height="7.58" fill="#EE9D86"/>
<rect x="358.58" y="453.9" width="2.69" height="7.58" fill="#4DF25F"/>
<rect x="358.58" y="461.43" width="2.69" height="7.58" fill="#BEBEBE"/>
<rect x="358.58" y="468.96" width="2.69" height="7.58" fill="#EDA10C"/>
<rect x="358.58" y="476.49" width="2.69" height="7.58" fill="#D31820"/>
<rect x="361.43" y="453.9" width="2.69" height="7.58" fill="#4DF25F"/>
<rect x="361.43" y="461.43" width="2.69" height="7.58" fill="#F0E442"/>
<rect x="361.43" y="468.96" width="2.69" height="7.58" fill="#EDA10C"/>
<rect x="361.43" y="476.49" width="2.69" height="7.58" fill="#EE9D86"/>
<rect x="364.27" y="453.9" width="2.69" height="7.58" fill="#4DF25F"/>
<rect x="364.27" y="461.43" width="2.69" height="7.58" fill="#F0E442"/>
<rect x="364.27" y="468.96" width="2.69" height="7.58" fill="#EDA10C"/>
<rect x="364.27" y="476.49" width="2.69" height="7.58" fill="#EE9D86"/>
<rect x="367.12" y="453.9" width="2.69" height="7.58" fill="#4BDAF8"/>
<rect x="367.12" y="461.43" width="2.69" height="7.58" fill="#009E73"/>
<rect x="367.12" y="468.96" width="2.69" height="7.58" fill="#0A70B8"/>
<rect x="367.12" y="476.49" width="2.69" height="7.58" fill="#D31820"/>
<rect x="369.97" y="453.9" width="2.69" height="7.58" fill="#4BDAF8"/>
<rect x="369.97" y="461.43" width="2.69" height="7.58" fill="#009E73"/>
<rect x="369.97" y="468.96" width="2.69" height="7.58" fill="#0A70B8"/>
<rect x="369.97" y="476.49" width="2.69" height="7.58" fill="#EE9D86"/>
<rect x="372.82" y="453.9" width="2.69" height="7.58" fill="#4BDAF8"/>
<rect x="372.82" y="461.43" width="2.69" height="7.58" fill="#009E73"/>
<rect x="372.82" y="468.96" width="2.69" height="7.58" fill="#EDA10C"/>
<rect x="372.82" y="476.49" width="2.69" height="7.58" fill="#D31820"/>
<rect x="375.67" y="453.9" width="2.69" height="7.58" fill="#4BDAF8"/>
<rect x="375.67" y="461.43" width="2.69" height="7.58" fill="#009E73"/>
<rect x="375.67" y="468.96" width="2.69" height="7.58" fill="#0A70B8"/>
<rect x="375.67" y="476.49" width="2.69" height="7.58" fill="#D31820"/>
<rect x="378.52" y="453.9" width="2.69" height="7.58" fill="#4BDAF8"/>
<rect x="378.52" y="461.43" width="2.69" height="7.58" fill="#009E73"/>
<rect x="378.52" y="468.96" width="2.69" height="7.58" fill="#0A70B8"/>
<rect x="378.52" y="476.49" width="2.69" height="7.58" fill="#D31820"/>
<rect x="381.37" y="453.9" width="2.69" height="7.58" fill="#4BDAF8"/>
<rect x="381.37" y="461.43" width="2.69" height="7.58" fill="#009E73"/>
<rect x="381.37" y="468.96" width="2.69" height="7.58" fill="#EDA10C"/>
<rect x="381.37" y="476.49" width="2.69" height="7.58" fill="#EE9D86"/>
<rect x="384.22" y="453.9" width="2.69" height="7.58" fill="#4BDAF8"/>
<rect x="384.22" y="461.43" width="2.69" height="7.58" fill="#009E73"/>
<rect x="384.22" y="468.96" width="2.69" height="7.58" fill="#0A70B8"/>
<rect x="384.22" y="476.49" width="2.69" height="7.58" fill="#EE9D86"/>
<rect x="387.07" y="453.9" width="2.69" height="7.58" fill="#4BDAF8"/>
<rect x="387.07" y="461.43" width="2.69" height="7.58" fill="#F0E442"/>
<rect x="387.07" y="468.96" width="2.69" height="7.58" fill="#0A70B8"/>
<rect x="387.07" y="476.49" width="2.69" height="7.58" fill="#EE9D86"/>
<rect x="389.92" y="453.9" width="2.69" height="7.58" fill="#4BDAF8"/>
<rect x="389.92" y="461.43" width="2.69" height="7.58" fill="#009E73"/>
<rect x="389.92" y="468.96" width="2.69" height="7.58" fill="#EDA10C"/>
<rect x="389.92" y="476.49" width="2.69" height="7.58" fill="#D31820"/>
<rect x="392.76" y="453.9" width="2.69" height="7.58" fill="#4BDAF8"/>
<rect x="392.76" y="461.43" width="2.69" height="7.58" fill="#009E73"/>
<rect x="392.76" y="468.96" width="2.69" height="7.58" fill="#0A70B8"/>
<rect x="392.76" y="476.49" width="2.69" height="7.58" fill="#D31820"/>
<rect x="395.61" y="453.9" width="2.69" height="7.58" fill="#4BDAF8"/>
<rect x="395.61" y="461.43" width="2.69" height="7.58" fill="#009E73"/>
<rect x="395.61" y="468.96" width="2.69" height="7.58" fill="#0A70B8"/>
<rect x="395.61" y="476.49" width="2.69" height="7.58" fill="#EE9D86"/>
<rect x="398.46" y="453.9" width="2.69" height="7.58" fill="#4BDAF8"/>
<rect x="398.46" y="461.43" width="2.69" height="7.58" fill="#009E73"/>
<rect x="398.46" y="468.96" width="2.69" height="7.58" fill="#0A70B8"/>
<rect x="398.46" y="476.49" width="2.69" height="7.58" fill="#D31820"/>
<rect x="401.31" y="453.9" width="2.69" height="7.58" fill="#4BDAF8"/>
<rect x="401.31" y="461.43" width="2.69" height="7.58" fill="#009E73"/>
<rect x="401.31" y="468.96" width="2.69" height="7.58" fill="#0A70B8"/>
<rect x="401.31" y="476.49" width="2.69" height="7.58" fill="#EE9D86"/>
<rect x="404.16" y="453.9" width="2.69" height="7.58" fill="#4BDAF8"/>
<rect x="404.16" y="461.43" width="2.69" height="7.58" fill="#009E73"/>
<rect x="404.16" y="468.96" width="2.69" height="7.58" fill="#0A70B8"/>
<rect x="404.16" y="476.49" width="2.69" height="7.58" fill="#D31820"/>
<rect x="407.01" y="453.9" width="2.69" height="7.58" fill="#4BDAF8"/>
<rect x="407.01" y="461.43" width="2.69" height="7.58" fill="#009E73"/>
<rect x="407.01" y="468.96" width="2.69" height="7.58" fill="#0A70B8"/>
<rect x="407.01" y="476.49" width="2.69" height="7.58" fill="#EE9D86"/>
<rect x="409.86" y="453.9" width="2.69" height="7.58" fill="#4BDAF8"/>
<rect x="409.86" y="461.43" width="2.69" height="7.58" fill="#F0E442"/>
<rect x="409.86" y="468.96" width="2.69" height="7.58" fill="#0A70B8"/>
<rect x="409.86" y="476.49" width="2.69" height="7.58" fill="#EE9D86"/>
<rect x="412.71" y="453.9" width="2.69" height="7.58" fill="#4BDAF8"/>
<rect x="412.71" y="461.43" width="2.69" height="7.58" fill="#009E73"/>
<rect x="412.71" y="468.96" width="2.69" height="7.58" fill="#0A70B8"/>
<rect x="412.71" y="476.49" width="2.69" height="7.58" fill="#EE9D86"/>
<rect x="415.56" y="453.9" width="2.69" height="7.58" fill="#4BDAF8"/>
<rect x="415.56" y="461.43" width="2.69" height="7.58" fill="#009E73"/>
<rect x="415.56" y="468.96" width="2.69" height="7.58" fill="#EDA10C"/>
<rect x="415.56" y="476.49" width="2.69" height="7.58" fill="#EE9D86"/>
<rect x="418.4" y="453.9" width="2.69" height="7.58" fill="#4BDAF8"/>
<rect x="418.4" y="461.43" width="2.69" height="7.58" fill="#F0E442"/>
<rect x="418.4" y="468.96" width="2.69" height="7.58" fill="#EDA10C"/>
<rect x="418.4" y="476.49" width="2.69" height="7.58" fill="#EE9D86"/>
<rect x="421.25" y="453.9" width="2.69" height="7.58" fill="#4BDAF8"/>
<rect x="421.25" y="461.43" width="2.69" height="7.58" fill="#009E73"/>
<rect x="421.25" y="468.96" width="2.69" height="7.58" fill="#0A70B8"/>
<rect x="421.25" y="476.49" width="2.69" height="7.58" fill="#EE9D86"/>
<rect x="424.1" y="453.9" width="2.69" height="7.58" fill="#4BDAF8"/>
<rect x="424.1" y="461.43" width="2.69" height="7.58" fill="#009E73"/>
<rect x="424.1" y="468.96" width="2.69" height="7.58" fill="#0A70B8"/>
<rect x="424.1" y="476.49" width="2.69" height="7.58" fill="#EE9D86"/>
<rect x="426.95" y="453.9" width="2.69" height="7.58" fill="#4BDAF8"/>
<rect x="426.95" y="461.43" width="2.69" height="7.58" fill="#009E73"/>
<rect x="426.95" y="468.96" width="2.69" height="7.58" fill="#0A70B8"/>
<rect x="426.95" y="476.49" width="2.69" height="7.58" fill="#EE9D86"/>
<rect x="429.8" y="453.9" width="2.69" height="7.58" fill="#4BDAF8"/>
<rect x="429.8" y="461.43" width="2.69" height="7.58" fill="#009E73"/>
<rect x="429.8" y="468.96" width="2.69" height="7.58" fill="#0A70B8"/>
<rect x="429.8" y="476.49" width="2.69" height="7.58" fill="#EE9D86"/>
<rect x="432.65" y="453.9" width="2.69" height="7.58" fill="#4BDAF8"/>
<rect x="432.65" y="461.43" width="2.69" height="7.58" fill="#009E73"/>
<rect x="432.65" y="468.96" width="2.69" height="7.58" fill="#0A70B8"/>
<rect x="432.65" y="476.49" width="2.69" height="7.58" fill="#EE9D86"/>
<rect x="435.5" y="453.9" width="2.69" height="7.58" fill="#4BDAF8"/>
<rect x="435.5" y="461.43" width="2.69" height="7.58" fill="#BEBEBE"/>
<rect x="435.5" y="468.96" width="2.69" height="7.58" fill="#EDA10C"/>
<rect x="435.5" y="476.49" width="2.69" height="7.58" fill="#D31820"/>
<rect x="438.35" y="453.9" width="2.69" height="7.58" fill="#4BDAF8"/>
<rect x="438.35" y="461.43" width="2.69" height="7.58" fill="#F0E442"/>
<rect x="438.35" y="468.96" width="2.69" height="7.58" fill="#EDA10C"/>
<rect x="438.35" y="476.49" width="2.69" height="7.58" fill="#EE9D86"/>
<rect x="441.2" y="453.9" width="2.69" height="7.58" fill="#4BDAF8"/>
<rect x="441.2" y="461.43" width="2.69" height="7.58" fill="#F0E442"/>
<rect x="441.2" y="468.96" width="2.69" height="7.58" fill="#EDA10C"/>
<rect x="441.2" y="476.49" width="2.69" height="7.58" fill="#EE9D86"/>
<rect x="444.05" y="453.9" width="2.69" height="7.58" fill="#FF6347"/>
<rect x="444.05" y="461.43" width="2.69" height="7.58" fill="#009E73"/>
<rect x="444.05" y="468.96" width="2.69" height="7.58" fill="#0A70B8"/>
<rect x="444.05" y="476.49" width="2.69" height="7.58" fill="#D31820"/>
<rect x="446.89" y="453.9" width="2.69" height="7.58" fill="#FF6347"/>
<rect x="446.89" y="461.43" width="2.69" height="7.58" fill="#009E73"/>
<rect x="446.89" y="468.96" width="2.69" height="7.58" fill="#0A70B8"/>
<rect x="446.89" y="476.49" width="2.69" height="7.58" fill="#EE9D86"/>
<rect x="449.74" y="453.9" width="2.69" height="7.58" fill="#FF6347"/>
<rect x="449.74" y="461.43" width="2.69" height="7.58" fill="#009E73"/>
<rect x="449.74" y="468.96" width="2.69" height="7.58" fill="#EDA10C"/>
<rect x="449.74" y="476.49" width="2.69" height="7.58" fill="#D31820"/>
<rect x="452.59" y="453.9" width="2.69" height="7.58" fill="#FF6347"/>
<rect x="452.59" y="461.43" width="2.69" height="7.58" fill="#009E73"/>
<rect x="452.59" y="468.96" width="2.69" height="7.58" fill="#0A70B8"/>
<rect x="452.59" y="476.49" width="2.69" height="7.58" fill="#D31820"/>
<rect x="455.44" y="453.9" width="2.69" height="7.58" fill="#FF6347"/>
<rect x="455.44" y="461.43" width="2.69" height="7.58" fill="#009E73"/>
<rect x="455.44" y="468.96" width="2.69" height="7.58" fill="#0A70B8"/>
<rect x="455.44" y="476.49" width="2.69" height="7.58" fill="#D31820"/>
<rect x="458.29" y="453.9" width="2.69" height="7.58" fill="#FF6347"/>
<rect x="458.29" y="461.43" width="2.69" height="7.58" fill="#009E73"/>
<rect x="458.29" y="468.96" width="2.69" height="7.58" fill="#EDA10C"/>
<rect x="458.29" y="476.49" width="2.69" height="7.58" fill="#EE9D86"/>
<rect x="461.14" y="453.9" width="2.69" height="7.58" fill="#FF6347"/>
<rect x="461.14" y="461.43" width="2.69" height="7.58" fill="#009E73"/>
<rect x="461.14" y="468.96" width="2.69" height="7.58" fill="#0A70B8"/>
<rect x="461.14" y="476.49" width="2.69" height="7.58" fill="#EE9D86"/>
<rect x="463.99" y="453.9" width="2.69" height="7.58" fill="#FF6347"/>
<rect x="463.99" y="461.43" width="2.69" height="7.58" fill="#F0E442"/>
<rect x="463.99" y="468.96" width="2.69" height="7.58" fill="#0A70B8"/>
<rect x="463.99" y="476.49" width="2.69" height="7.58" fill="#EE9D86"/>
<rect x="466.84" y="453.9" width="2.69" height="7.58" fill="#FF6347"/>
<rect x="466.84" y="461.43" width="2.69" height="7.58" fill="#009E73"/>
<rect x="466.84" y="468.96" width="2.69" height="7.58" fill="#EDA10C"/>
<rect x="466.84" y="476.49" width="2.69" height="7.58" fill="#D31820"/>
<rect x="469.69" y="453.9" width="2.69" height="7.58" fill="#FF6347"/>
<rect x="469.69" y="461.43" width="2.69" height="7.58" fill="#009E73"/>
<rect x="469.69" y="468.96" width="2.69" height="7.58" fill="#0A70B8"/>
<rect x="469.69" y="476.49" width="2.69" height="7.58" fill="#D31820"/>
<rect x="472.54" y="453.9" width="2.69" height="7.58" fill="#FF6347"/>
<rect x="472.54" y="461.43" width="2.69" height="7.58" fill="#009E73"/>
<rect x="472.54" y="468.96" width="2.69" height="7.58" fill="#0A70B8"/>
<rect x="472.54" y="476.49" width="2.69" height="7.58" fill="#EE9D86"/>
<rect x="475.38" y="453.9" width="2.69" height="7.58" fill="#FF6347"/>
<rect x="475.38" y="461.43" width="2.69" height="7.58" fill="#009E73"/>
<rect x="475.38" y="468.96" width="2.69" height="7.58" fill="#0A70B8"/>
<rect x="475.38" y="476.49" width="2.69" height="7.58" fill="#D31820"/>
<rect x="478.23" y="453.9" width="2.69" height="7.58" fill="#FF6347"/>
<rect x="478.23" y="461.43" width="2.69" height="7.58" fill="#009E73"/>
<rect x="478.23" y="468.96" width="2.69" height="7.58" fill="#0A70B8"/>
<rect x="478.23" y="476.49" width="2.69" height="7.58" fill="#EE9D86"/>
<rect x="481.08" y="453.9" width="2.69" height="7.58" fill="#FF6347"/>
<rect x="481.08" y="461.43" width="2.69" height="7.58" fill="#009E73"/>
<rect x="481.08" y="468.96" width="2.69" height="7.58" fill="#0A70B8"/>
<rect x="481.08" y="476.49" width="2.69" height="7.58" fill="#D31820"/>
<rect x="483.93" y="453.9" width="2.69" height="7.58" fill="#FF6347"/>
<rect x="483.93" y="461.43" width="2.69" height="7.58" fill="#009E73"/>
<rect x="483.93" y="468.96" width="2.69" height="7.58" fill="#0A70B8"/>
<rect x="483.93" y="476.49" width="2.69" height="7.58" fill="#EE9D86"/>
<rect x="486.78" y="453.9" width="2.69" height="7.58" fill="#FF6347"/>
<rect x="486.78" y="461.43" width="2.69" height="7.58" fill="#F0E442"/>
<rect x="486.78" y="468.96" width="2.69" height="7.58" fill="#0A70B8"/>
<rect x="486.78" y="476.49" width="2.69" height="7.58" fill="#EE9D86"/>
<rect x="489.63" y="453.9" width="2.69" height="7.58" fill="#FF6347"/>
<rect x="489.63" y="461.43" width="2.69" height="7.58" fill="#009E73"/>
<rect x="489.63" y="468.96" width="2.69" height="7.58" fill="#0A70B8"/>
<rect x="489.63" y="476.49" width="2.69" height="7.58" fill="#EE9D86"/>
<rect x="492.48" y="453.9" width="2.69" height="7.58" fill="#FF6347"/>
<rect x="492.48" y="461.43" width="2.69" height="7.58" fill="#009E73"/>
<rect x="492.48" y="468.96" width="2.69" height="7.58" fill="#EDA10C"/>
<rect x="492.48" y="476.49" width="2.69" height="7.58" fill="#EE9D86"/>
<rect x="495.33" y="453.9" width="2.69" height="7.58" fill="#FF6347"/>
<rect x="495.33" y="461.43" width="2.69" height="7.58" fill="#F0E442"/>
<rect x="495.33" y="468.96" width="2.69" height="7.58" fill="#EDA10C"/>
<rect x="495.33" y="476.49" width="2.69" height="7.58" fill="#EE9D86"/>
<rect x="498.18" y="453.9" width="2.69" height="7.58" fill="#FF6347"/>
<rect x="498.18" y="461.43" width="2.69" height="7.58" fill="#009E73"/>
<rect x="498.18" y="468.96" width="2.69" height="7.58" fill="#0A70B8"/>
<rect x="498.18" y="476.49" width="2.69" height="7.58" fill="#EE9D86"/>
<rect x="501.03" y="453.9" width="2.69" height="7.58" fill="#FF6347"/>
<rect x="501.03" y="461.43" width="2.69" height="7.58" fill="#009E73"/>
<rect x="501.03" y="468.96" width="2.69" height="7.58" fill="#0A70B8"/>
<rect x="501.03" y="476.49" width="2.69" height="7.58" fill="#EE9D86"/>
<rect x="503.88" y="453.9" width="2.69" height="7.58" fill="#FF6347"/>
<rect x="503.88" y="461.43" width="2.69" height="7.58" fill="#009E73"/>
<rect x="503.88" y="468.96" width="2.69" height="7.58" fill="#0A70B8"/>
<rect x="503.88" y="476.49" width="2.69" height="7.58" fill="#EE9D86"/>
<rect x="506.72" y="453.9" width="2.69" height="7.58" fill="#FF6347"/>
<rect x="506.72" y="461.43" width="2.69" height="7.58" fill="#009E73"/>
<rect x="506.72" y="468.96" width="2.69" height="7.58" fill="#0A70B8"/>
<rect x="506.72" y="476.49" width="2.69" height="7.58" fill="#EE9D86"/>
<rect x="509.57" y="453.9" width="2.69" height="7.58" fill="#FF6347"/>
<rect x="509.57" y="461.43" width="2.69" height="7.58" fill="#009E73"/>
<rect x="509.57" y="468.96" width="2.69" height="7.58" fill="#0A70B8"/>
<rect x="509.57" y="476.49" width="2.69" height="7.58" fill="#EE9D86"/>
<rect x="512.42" y="453.9" width="2.69" height="7.58" fill="#FF6347"/>
<rect x="512.42" y="461.43" width="2.69" height="7.58" fill="#BEBEBE"/>
<rect x="512.42" y="468.96" width="2.69" height="7.58" fill="#EDA10C"/>
<rect x="512.42" y="476.49" width="2.69" height="7.58" fill="#D31820"/>
<rect x="515.27" y="453.9" width="2.69" height="7.58" fill="#FF6347"/>
<rect x="515.27" y="461.43" width="2.69" height="7.58" fill="#F0E442"/>
<rect x="515.27" y="468.96" width="2.69" height="7.58" fill="#EDA10C"/>
<rect x="515.27" y="476.49" width="2.69" height="7.58" fill="#EE9D86"/>
<rect x="518.12" y="453.9" width="2.69" height="7.58" fill="#FF6347"/>
<rect x="518.12" y="461.43" width="2.69" height="7.58" fill="#F0E442"/>
<rect x="518.12" y="468.96" width="2.69" height="7.58" fill="#EDA10C"/>
<rect x="518.12" y="476.49" width="2.69" height="7.58" fill="#EE9D86"/>
<text x="525.2" y="459.96" font-size="6.65" fill="#000">Source</text>
<text x="525.2" y="467.49" font-size="6.65" fill="#000">TAT Pathology</text>
<text x="525.2" y="475.02" font-size="6.65" fill="#000">Relapse</text>
<text x="525.2" y="482.55" font-size="6.65" fill="#000">TNM Stage</text>
<rect x="0" y="490.5" width="3" height="3" fill="#4FAFCF"/>
<text x="6.5" y="494.5" font-size="6.45" fill="#000">Missense mutation</text>
<rect x="0" y="498.67" width="3" height="3" fill="#11967A"/>
<text x="6.5" y="502.67" font-size="6.45" fill="#000">Nonsense mutation</text>
<rect x="0" y="506.84" width="3" height="3" fill="#DC4C36"/>
<text x="6.5" y="510.84" font-size="6.45" fill="#000">Frame-shift deletion</text>
<rect x="0" y="515.01" width="3" height="3" fill="#F2A71A"/>
<text x="6.5" y="519.01" font-size="6.45" fill="#000">Splice site mutation</text>
<rect x="70.3" y="490.5" width="3" height="3" fill="#F39B7F"/>
<text x="76.8" y="494.5" font-size="6.45" fill="#000">Frame-shift insertion</text>
<rect x="70.3" y="498.67" width="3" height="3" fill="#2F84D9"/>
<text x="76.8" y="502.67" font-size="6.45" fill="#000">In-frame deletion</text>
<rect x="70.3" y="506.84" width="3" height="3" fill="#3B5287"/>
<text x="76.8" y="510.84" font-size="6.45" fill="#000">Multi-hit</text>
<text x="255.6" y="499.7" font-size="6.45" fill="#000">Source</text>
<rect x="255.2" y="504.7" width="3" height="3" fill="#FFBA4E"/>
<text x="261.7" y="508.7" font-size="6.45" fill="#000">Primary tumour</text>
<rect x="255.2" y="513" width="3" height="3" fill="#F5387C"/>
<text x="261.7" y="517" font-size="6.45" fill="#000">TAT</text>
<rect x="255.2" y="521.5" width="3" height="3" fill="#4B88F2"/>
<text x="261.7" y="525.5" font-size="6.45" fill="#000">Pre-ctDNA</text>
<rect x="315.8" y="504" width="3" height="3" fill="#4DF25F"/>
<text x="322.3" y="508" font-size="6.45" fill="#000">Post-ctDNA</text>
<rect x="315.8" y="513" width="3" height="3" fill="#4BDAF8"/>
<text x="322.3" y="517" font-size="6.45" fill="#000">Pre-sctDNA</text>
<rect x="315.8" y="521.5" width="3" height="3" fill="#FF6347"/>
<text x="322.3" y="525.5" font-size="6.45" fill="#000">Post-sctDNA</text>
<text x="382.0" y="499.7" font-size="6.45" fill="#000">TAT Pathology</text>
<rect x="383" y="504.7" width="3" height="3" fill="#BEBEBE"/>
<text x="389.5" y="508.7" font-size="6.45" fill="#000">No TAT sample</text>
<rect x="383" y="513" width="3" height="3" fill="#009E73"/>
<text x="389.5" y="517" font-size="6.45" fill="#000">Negative surgical margin</text>
<rect x="383" y="521.5" width="3" height="3" fill="#F0E442"/>
<text x="389.5" y="525.5" font-size="6.45" fill="#000">Premalignant lesion</text>
<text x="474.9" y="499.7" font-size="6.45" fill="#000">Relapse</text>
<rect x="482.4" y="505.3" width="3" height="3" fill="#0A70B8"/>
<text x="488.9" y="509.3" font-size="6.45" fill="#000">No</text>
<rect x="482.4" y="513.7" width="3" height="3" fill="#EDA10C"/>
<text x="488.9" y="517.7" font-size="6.45" fill="#000">Yes</text>
<text x="521.9" y="499.7" font-size="6.45" fill="#000">TNM Stage</text>
<rect x="525.6" y="505.3" width="3" height="3" fill="#D31820"/>
<text x="532.1" y="509.3" font-size="6.45" fill="#000">I–II</text>
<rect x="525.6" y="513.7" width="3" height="3" fill="#EE9D86"/>
<text x="532.1" y="517.7" font-size="6.45" fill="#000">III–IV</text>
</svg>
</body></html>
